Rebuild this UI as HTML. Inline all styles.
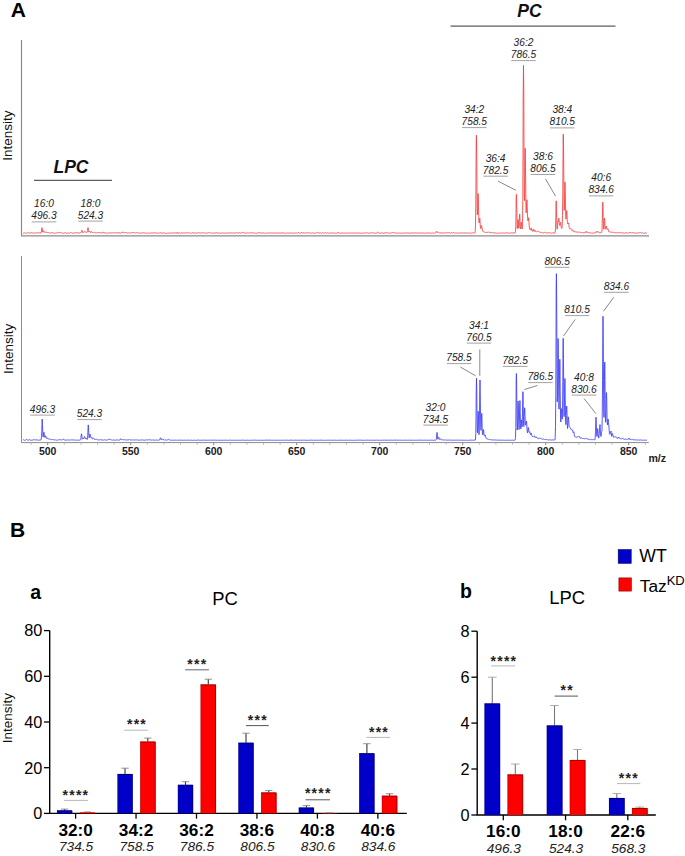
<!DOCTYPE html><html><head><meta charset="utf-8"><title>fig</title><style>html,body{margin:0;padding:0;background:#fff}svg{display:block}text{font-family:"Liberation Sans",sans-serif}</style></head><body>
<svg width="685" height="856" viewBox="0 0 685 856">
<rect width="685" height="856" fill="#fff"/>
<text x="10.8" y="16.6" font-size="21" font-weight="bold" fill="#000">A</text>
<text x="10" y="536.8" font-size="21" font-weight="bold" fill="#000">B</text>
<path d="M21.5,40 V235.9 H649" fill="none" stroke="#8c8c8c" stroke-width="1.2"/>
<path d="M21.5,256 V442.6 H648.8" fill="none" stroke="#8c8c8c" stroke-width="1"/>
<line x1="47.7" y1="442.6" x2="47.7" y2="445.2" stroke="#8c8c8c" stroke-width="1"/>
<text x="47.7" y="454.6" font-size="10.5" font-weight="bold" text-anchor="middle" fill="#222">500</text>
<line x1="130.7" y1="442.6" x2="130.7" y2="445.2" stroke="#8c8c8c" stroke-width="1"/>
<text x="130.7" y="454.6" font-size="10.5" font-weight="bold" text-anchor="middle" fill="#222">550</text>
<line x1="213.7" y1="442.6" x2="213.7" y2="445.2" stroke="#8c8c8c" stroke-width="1"/>
<text x="213.7" y="454.6" font-size="10.5" font-weight="bold" text-anchor="middle" fill="#222">600</text>
<line x1="296.7" y1="442.6" x2="296.7" y2="445.2" stroke="#8c8c8c" stroke-width="1"/>
<text x="296.7" y="454.6" font-size="10.5" font-weight="bold" text-anchor="middle" fill="#222">650</text>
<line x1="379.7" y1="442.6" x2="379.7" y2="445.2" stroke="#8c8c8c" stroke-width="1"/>
<text x="379.7" y="454.6" font-size="10.5" font-weight="bold" text-anchor="middle" fill="#222">700</text>
<line x1="462.7" y1="442.6" x2="462.7" y2="445.2" stroke="#8c8c8c" stroke-width="1"/>
<text x="462.7" y="454.6" font-size="10.5" font-weight="bold" text-anchor="middle" fill="#222">750</text>
<line x1="545.7" y1="442.6" x2="545.7" y2="445.2" stroke="#8c8c8c" stroke-width="1"/>
<text x="545.7" y="454.6" font-size="10.5" font-weight="bold" text-anchor="middle" fill="#222">800</text>
<line x1="628.7" y1="442.6" x2="628.7" y2="445.2" stroke="#8c8c8c" stroke-width="1"/>
<text x="628.7" y="454.6" font-size="10.5" font-weight="bold" text-anchor="middle" fill="#222">850</text>
<line x1="31.1" y1="442.6" x2="31.1" y2="444.9" stroke="#a8a8a8" stroke-width="0.7"/>
<line x1="64.3" y1="442.6" x2="64.3" y2="444.9" stroke="#a8a8a8" stroke-width="0.7"/>
<line x1="80.9" y1="442.6" x2="80.9" y2="444.9" stroke="#a8a8a8" stroke-width="0.7"/>
<line x1="97.5" y1="442.6" x2="97.5" y2="444.9" stroke="#a8a8a8" stroke-width="0.7"/>
<line x1="114.1" y1="442.6" x2="114.1" y2="444.9" stroke="#a8a8a8" stroke-width="0.7"/>
<line x1="147.3" y1="442.6" x2="147.3" y2="444.9" stroke="#a8a8a8" stroke-width="0.7"/>
<line x1="163.9" y1="442.6" x2="163.9" y2="444.9" stroke="#a8a8a8" stroke-width="0.7"/>
<line x1="180.5" y1="442.6" x2="180.5" y2="444.9" stroke="#a8a8a8" stroke-width="0.7"/>
<line x1="197.1" y1="442.6" x2="197.1" y2="444.9" stroke="#a8a8a8" stroke-width="0.7"/>
<line x1="230.3" y1="442.6" x2="230.3" y2="444.9" stroke="#a8a8a8" stroke-width="0.7"/>
<line x1="246.9" y1="442.6" x2="246.9" y2="444.9" stroke="#a8a8a8" stroke-width="0.7"/>
<line x1="263.5" y1="442.6" x2="263.5" y2="444.9" stroke="#a8a8a8" stroke-width="0.7"/>
<line x1="280.1" y1="442.6" x2="280.1" y2="444.9" stroke="#a8a8a8" stroke-width="0.7"/>
<line x1="313.3" y1="442.6" x2="313.3" y2="444.9" stroke="#a8a8a8" stroke-width="0.7"/>
<line x1="329.9" y1="442.6" x2="329.9" y2="444.9" stroke="#a8a8a8" stroke-width="0.7"/>
<line x1="346.5" y1="442.6" x2="346.5" y2="444.9" stroke="#a8a8a8" stroke-width="0.7"/>
<line x1="363.1" y1="442.6" x2="363.1" y2="444.9" stroke="#a8a8a8" stroke-width="0.7"/>
<line x1="396.3" y1="442.6" x2="396.3" y2="444.9" stroke="#a8a8a8" stroke-width="0.7"/>
<line x1="412.9" y1="442.6" x2="412.9" y2="444.9" stroke="#a8a8a8" stroke-width="0.7"/>
<line x1="429.5" y1="442.6" x2="429.5" y2="444.9" stroke="#a8a8a8" stroke-width="0.7"/>
<line x1="446.1" y1="442.6" x2="446.1" y2="444.9" stroke="#a8a8a8" stroke-width="0.7"/>
<line x1="479.3" y1="442.6" x2="479.3" y2="444.9" stroke="#a8a8a8" stroke-width="0.7"/>
<line x1="495.9" y1="442.6" x2="495.9" y2="444.9" stroke="#a8a8a8" stroke-width="0.7"/>
<line x1="512.5" y1="442.6" x2="512.5" y2="444.9" stroke="#a8a8a8" stroke-width="0.7"/>
<line x1="529.1" y1="442.6" x2="529.1" y2="444.9" stroke="#a8a8a8" stroke-width="0.7"/>
<line x1="562.3" y1="442.6" x2="562.3" y2="444.9" stroke="#a8a8a8" stroke-width="0.7"/>
<line x1="578.9" y1="442.6" x2="578.9" y2="444.9" stroke="#a8a8a8" stroke-width="0.7"/>
<line x1="595.5" y1="442.6" x2="595.5" y2="444.9" stroke="#a8a8a8" stroke-width="0.7"/>
<line x1="612.1" y1="442.6" x2="612.1" y2="444.9" stroke="#a8a8a8" stroke-width="0.7"/>
<line x1="645.3" y1="442.6" x2="645.3" y2="444.9" stroke="#a8a8a8" stroke-width="0.7"/>
<text x="657.3" y="461.8" font-size="10.6" font-weight="bold" text-anchor="middle" fill="#222">m/z</text>
<text transform="translate(12,135.7) rotate(-90)" font-size="13.5" text-anchor="middle" fill="#111">Intensity</text>
<text transform="translate(12.8,348.9) rotate(-90)" font-size="13.5" text-anchor="middle" fill="#111">Intensity</text>
<path d="M23.0,233.2 23.2,233.2 23.5,233.2 23.8,233.2 24.0,233.1 24.2,232.9 24.5,232.9 24.8,233.0 25.0,233.0 25.2,233.1 25.5,233.0 25.8,233.0 26.0,233.1 26.2,233.2 26.5,233.3 26.8,233.2 27.0,233.1 27.2,233.0 27.5,232.8 27.8,232.6 28.0,232.5 28.2,232.6 28.5,232.8 28.8,232.8 29.0,232.9 29.2,232.9 29.5,233.0 29.8,233.0 30.0,233.0 30.2,233.0 30.5,233.0 30.8,232.9 31.0,232.8 31.2,232.6 31.5,232.5 31.8,232.6 32.0,232.7 32.2,232.8 32.5,232.9 32.8,233.1 33.0,233.1 33.2,233.1 33.5,233.1 33.8,233.1 34.0,233.1 34.2,233.1 34.5,233.1 34.8,233.2 35.0,233.1 35.2,233.0 35.5,232.8 35.8,232.8 36.0,232.8 36.2,232.8 36.5,232.9 36.8,233.0 37.0,233.2 37.2,233.1 37.5,233.1 37.8,233.0 38.0,232.7 38.2,232.5 38.5,232.5 38.8,232.7 39.0,232.9 39.2,233.0 39.5,233.1 39.8,233.1 40.0,233.1 40.2,233.0 40.5,232.9 40.8,233.0 41.0,233.1 41.2,232.6 41.5,231.1 41.8,228.8 42.0,227.6 42.2,228.8 42.5,231.0 42.8,232.1 43.0,232.0 43.2,231.1 43.5,230.7 43.7,230.7 43.8,230.8 44.0,231.6 44.2,232.2 44.5,232.4 44.8,232.2 45.0,232.0 45.2,231.8 45.5,232.0 45.8,232.3 46.0,232.6 46.2,232.5 46.5,232.3 46.7,232.1 46.8,232.0 47.0,232.1 47.2,232.3 47.5,232.7 47.8,232.7 48.0,232.7 48.2,232.6 48.5,232.6 48.8,232.6 49.0,232.7 49.2,232.9 49.5,233.1 49.8,233.1 50.0,233.1 50.2,233.1 50.5,233.0 50.8,233.0 51.0,232.9 51.2,232.6 51.5,232.4 51.8,232.2 52.0,232.5 52.2,232.7 52.5,232.9 52.8,233.0 53.0,233.1 53.2,233.0 53.5,233.0 53.8,232.9 54.0,233.0 54.2,233.1 54.5,233.2 54.8,233.2 55.0,233.1 55.2,233.1 55.5,233.1 55.8,233.2 56.0,233.2 56.2,233.2 56.5,233.2 56.8,232.9 57.0,232.6 57.2,232.3 57.5,232.4 57.8,232.5 58.0,232.7 58.2,232.7 58.5,232.6 58.8,232.6 59.0,232.6 59.2,232.7 59.5,232.6 59.8,232.4 60.0,232.2 60.2,232.3 60.5,232.6 60.8,232.9 61.0,232.9 61.2,232.9 61.5,232.8 61.8,232.9 62.0,233.1 62.2,233.2 62.5,233.2 62.8,233.2 63.0,233.2 63.2,233.2 63.5,233.2 63.8,233.2 64.0,233.1 64.2,233.0 64.5,233.0 64.8,233.0 65.0,233.0 65.2,232.9 65.5,232.7 65.8,232.6 66.0,232.9 66.2,233.1 66.5,233.2 66.8,233.2 67.0,233.2 67.2,233.1 67.5,233.0 67.8,232.8 68.0,232.9 68.2,233.0 68.5,233.2 68.8,233.2 69.0,233.2 69.2,233.2 69.5,233.2 69.8,233.2 70.0,233.1 70.2,232.8 70.5,232.5 70.8,232.4 71.0,232.5 71.2,232.5 71.5,232.7 71.8,233.0 72.0,233.3 72.2,233.2 72.5,233.1 72.8,233.1 73.0,233.1 73.2,233.2 73.5,233.2 73.8,233.2 74.0,233.1 74.2,233.1 74.5,232.9 74.8,232.8 75.0,232.7 75.2,232.7 75.5,232.6 75.8,232.8 76.0,232.9 76.2,233.1 76.5,233.1 76.8,233.2 77.0,233.0 77.2,232.6 77.5,232.2 77.8,232.2 78.0,232.5 78.2,232.7 78.5,232.9 78.8,232.9 79.0,233.0 79.2,233.1 79.5,233.2 79.8,233.2 80.0,233.0 80.2,232.8 80.5,232.7 80.8,232.6 81.0,232.5 81.2,232.3 81.5,231.6 81.8,230.6 82.0,230.2 82.2,231.0 82.5,232.2 82.8,232.8 83.0,233.0 83.2,232.8 83.5,232.4 83.7,232.3 83.8,232.2 84.0,232.1 84.2,231.7 84.5,231.5 84.8,231.7 85.0,232.0 85.2,232.1 85.5,232.2 85.8,232.3 86.0,232.4 86.2,232.2 86.2,232.2 86.5,232.3 86.8,232.4 87.0,232.4 87.2,231.9 87.5,230.6 87.8,228.5 88.0,227.5 88.2,228.6 88.5,230.6 88.8,231.9 89.0,232.1 89.2,231.8 89.5,231.2 89.7,231.0 89.8,231.0 90.0,231.5 90.2,232.1 90.5,232.5 90.8,232.5 91.0,232.2 91.2,231.7 91.5,231.5 91.8,231.8 92.0,232.1 92.2,232.3 92.5,232.5 92.8,232.5 93.0,232.5 93.2,232.5 93.5,232.6 93.8,232.7 94.0,232.6 94.2,232.4 94.5,232.4 94.8,232.6 95.0,232.8 95.2,232.9 95.5,232.9 95.8,232.9 96.0,232.9 96.2,232.9 96.5,232.8 96.8,232.9 97.0,233.0 97.2,233.0 97.5,232.7 97.8,232.4 98.0,232.1 98.2,232.2 98.5,232.5 98.8,232.7 99.0,232.9 99.2,232.9 99.5,232.7 99.7,232.6 99.8,232.6 100.0,232.7 100.2,232.8 100.5,233.0 100.8,232.9 101.0,232.7 101.2,232.4 101.5,232.4 101.8,232.7 102.0,233.0 102.2,233.1 102.5,233.0 102.8,232.9 103.0,232.6 103.2,232.3 103.5,232.0 103.8,232.4 104.0,232.8 104.2,233.0 104.5,232.9 104.8,232.8 105.0,232.8 105.2,233.0 105.5,233.1 105.8,233.2 106.0,233.1 106.2,233.1 106.5,233.0 106.8,232.9 107.0,232.8 107.2,232.9 107.5,233.1 107.8,233.1 108.0,233.0 108.2,233.0 108.5,232.9 108.8,232.9 109.0,232.8 109.2,232.9 109.5,233.0 109.8,233.0 110.0,233.0 110.2,232.9 110.5,232.8 110.8,232.9 111.0,233.0 111.2,233.0 111.5,233.0 111.8,233.0 112.0,233.0 112.2,233.0 112.5,232.9 112.8,232.9 113.0,232.9 113.2,232.9 113.5,232.7 113.8,232.5 114.0,232.4 114.2,232.6 114.5,232.9 114.8,233.1 115.0,233.0 115.2,232.9 115.5,232.8 115.8,232.8 116.0,232.7 116.2,232.8 116.5,232.9 116.8,233.0 117.0,232.8 117.2,232.5 117.5,232.2 117.8,232.6 118.0,233.0 118.2,233.3 118.5,233.2 118.8,233.1 119.0,233.0 119.2,232.9 119.5,232.7 119.8,232.8 120.0,233.0 120.2,233.2 120.5,233.2 120.8,233.1 121.0,233.0 121.2,232.8 121.5,232.5 121.8,232.1 122.0,231.9 122.2,232.2 122.5,232.6 122.8,232.5 123.0,232.2 123.2,232.1 123.5,232.2 123.7,232.3 123.8,232.3 124.0,232.6 124.2,232.9 124.5,233.1 124.8,232.8 125.0,232.5 125.2,232.3 125.5,232.6 125.8,232.9 126.0,233.0 126.2,232.9 126.5,232.8 126.8,232.8 127.0,233.0 127.2,233.1 127.5,233.0 127.8,232.9 128.0,232.7 128.2,232.9 128.5,233.0 128.8,233.1 129.0,233.0 129.2,232.9 129.5,232.9 129.8,233.0 130.0,233.1 130.2,233.0 130.5,233.0 130.8,232.9 131.0,232.8 131.2,232.8 131.5,232.7 131.8,232.6 132.0,232.6 132.2,232.6 132.5,232.7 132.8,232.9 133.0,232.9 133.2,232.7 133.5,232.5 133.8,232.5 134.0,232.5 134.2,232.5 134.5,232.7 134.8,232.9 135.0,233.1 135.2,233.1 135.5,233.1 135.8,233.0 136.0,232.8 136.2,232.6 136.5,232.6 136.8,232.8 137.0,233.0 137.2,232.9 137.5,232.8 137.8,232.6 138.0,232.7 138.2,232.8 138.5,233.0 138.8,233.0 139.0,233.1 139.2,233.2 139.5,233.1 139.8,233.0 140.0,233.0 140.2,233.0 140.5,233.1 140.8,233.1 141.0,233.0 141.2,232.9 141.5,232.9 141.8,232.9 142.0,233.0 142.2,233.0 142.5,233.0 142.8,233.0 143.0,233.0 143.2,232.9 143.5,232.8 143.8,232.7 144.0,232.7 144.2,232.7 144.5,232.9 144.8,233.1 145.0,233.1 145.2,233.2 145.5,233.2 145.8,233.2 146.0,233.2 146.2,233.2 146.5,233.1 146.8,233.0 147.0,233.0 147.2,233.0 147.5,233.1 147.8,233.1 148.0,233.1 148.2,233.2 148.5,233.1 148.8,233.0 149.0,233.0 149.2,233.0 149.5,233.1 149.8,233.1 150.0,233.2 150.2,233.2 150.5,233.3 150.8,233.2 151.0,233.2 151.2,233.0 151.5,232.8 151.8,232.5 152.0,232.6 152.2,232.8 152.5,233.1 152.8,232.9 153.0,232.8 153.2,232.7 153.5,232.9 153.8,233.1 154.0,233.1 154.2,233.0 154.5,233.0 154.8,232.9 155.0,232.8 155.2,232.6 155.5,232.7 155.8,232.8 156.0,232.9 156.2,233.0 156.5,233.0 156.8,233.1 157.0,233.1 157.2,233.2 157.5,233.2 157.8,233.2 158.0,233.1 158.2,233.1 158.5,233.1 158.8,233.0 159.0,233.0 159.2,233.0 159.5,233.0 159.8,232.8 160.0,232.6 160.2,232.5 160.5,232.8 160.8,233.0 161.0,233.2 161.2,233.2 161.5,233.2 161.8,233.2 162.0,233.1 162.2,233.1 162.5,233.1 162.8,233.1 163.0,233.1 163.2,233.0 163.5,232.9 163.8,232.8 164.0,233.0 164.2,233.1 164.5,233.2 164.8,233.2 165.0,233.2 165.2,233.3 165.5,233.3 165.8,233.3 166.0,233.3 166.2,233.3 166.5,233.3 166.8,233.2 167.0,233.2 167.2,233.2 167.5,233.1 167.8,233.1 168.0,233.1 168.2,233.2 168.5,233.2 168.8,233.2 169.0,233.1 169.2,232.9 169.5,232.9 169.8,232.9 170.0,232.9 170.2,233.0 170.5,233.2 170.8,233.2 171.0,233.1 171.2,233.0 171.5,232.9 171.8,232.9 172.0,232.9 172.2,232.9 172.5,233.0 172.8,233.1 173.0,233.2 173.2,233.2 173.5,233.2 173.8,233.0 174.0,232.8 174.2,232.7 174.5,232.9 174.8,233.1 175.0,233.2 175.2,233.1 175.5,233.0 175.8,233.0 176.0,233.0 176.2,233.1 176.5,233.1 176.8,233.2 177.0,233.3 177.2,232.8 177.5,232.4 177.8,232.1 178.0,232.6 178.2,233.0 178.5,233.3 178.8,233.3 179.0,233.3 179.2,233.2 179.5,233.1 179.8,232.9 180.0,233.0 180.2,233.1 180.5,233.2 180.8,233.1 181.0,232.9 181.2,232.7 181.5,232.8 181.8,232.8 182.0,232.9 182.2,233.0 182.5,233.1 182.8,233.1 183.0,233.0 183.2,232.9 183.5,232.8 183.8,232.7 184.0,232.6 184.2,232.7 184.5,232.8 184.8,232.9 185.0,233.0 185.2,233.1 185.5,233.1 185.8,233.1 186.0,233.0 186.2,232.9 186.5,232.9 186.8,232.8 187.0,232.9 187.2,232.9 187.5,233.0 187.8,232.8 188.0,232.6 188.2,232.4 188.5,232.7 188.8,233.0 189.0,233.1 189.2,233.0 189.5,232.8 189.8,232.9 190.0,233.0 190.2,233.2 190.5,233.2 190.8,233.1 191.0,233.0 191.2,233.1 191.5,233.1 191.8,233.1 192.0,232.9 192.2,232.7 192.5,232.6 192.8,232.8 193.0,233.1 193.2,233.1 193.5,233.1 193.8,233.0 194.0,233.1 194.2,233.1 194.5,233.2 194.8,233.0 195.0,232.9 195.2,232.8 195.5,232.9 195.8,233.1 196.0,233.2 196.2,233.1 196.5,233.1 196.8,233.1 197.0,233.2 197.2,233.2 197.5,233.2 197.8,233.1 198.0,233.0 198.2,232.8 198.5,232.6 198.8,232.5 199.0,232.7 199.2,232.9 199.5,233.0 199.8,233.0 200.0,232.9 200.2,233.0 200.5,233.0 200.8,233.0 201.0,233.0 201.2,233.0 201.5,233.0 201.8,233.1 202.0,233.2 202.2,233.1 202.5,232.9 202.8,232.6 203.0,232.5 203.2,232.7 203.5,232.8 203.8,232.9 204.0,232.8 204.2,232.8 204.5,232.9 204.8,233.1 205.0,233.3 205.2,233.2 205.5,233.2 205.8,233.2 206.0,233.1 206.2,233.0 206.5,233.0 206.8,233.1 207.0,233.1 207.2,233.1 207.5,233.1 207.8,233.0 208.0,232.9 208.2,232.7 208.5,232.5 208.8,232.8 209.0,233.0 209.2,233.1 209.5,232.9 209.8,232.7 210.0,232.6 210.2,232.8 210.5,233.0 210.8,233.1 211.0,233.2 211.2,233.2 211.5,233.1 211.8,233.1 212.0,233.0 212.2,233.0 212.5,233.1 212.8,233.1 213.0,233.2 213.2,233.2 213.5,233.2 213.8,233.1 214.0,233.1 214.2,233.0 214.5,232.9 214.8,232.9 215.0,232.9 215.2,233.1 215.5,233.2 215.8,233.0 216.0,232.9 216.2,232.7 216.5,232.7 216.8,232.8 217.0,232.8 217.2,233.0 217.5,233.2 217.8,233.2 218.0,233.2 218.2,233.2 218.5,233.1 218.8,233.0 219.0,233.0 219.2,233.0 219.5,233.0 219.8,233.1 220.0,233.1 220.2,233.1 220.5,233.1 220.8,233.1 221.0,233.0 221.2,233.1 221.5,233.2 221.8,233.2 222.0,233.1 222.2,232.9 222.5,232.7 222.8,232.9 223.0,233.1 223.2,233.2 223.5,233.2 223.8,233.1 224.0,233.1 224.2,233.2 224.5,233.2 224.8,233.1 225.0,233.0 225.2,232.9 225.5,232.9 225.8,233.0 226.0,233.0 226.2,233.1 226.5,233.1 226.8,233.2 227.0,233.2 227.2,233.2 227.5,233.2 227.8,233.1 228.0,233.1 228.2,233.0 228.5,233.0 228.8,233.0 229.0,233.0 229.2,232.9 229.5,232.8 229.8,232.9 230.0,232.9 230.2,233.0 230.5,232.9 230.8,232.8 231.0,232.7 231.2,232.8 231.5,232.9 231.8,232.9 232.0,233.0 232.2,233.0 232.5,232.9 232.8,232.9 233.0,232.8 233.2,232.9 233.5,232.9 233.8,233.0 234.0,233.1 234.2,233.1 234.5,233.2 234.8,233.2 235.0,233.2 235.2,233.2 235.5,233.2 235.8,233.1 236.0,233.0 236.2,232.7 236.5,232.5 236.8,232.6 237.0,232.7 237.2,232.8 237.5,233.0 237.8,233.2 238.0,233.3 238.2,233.2 238.5,233.2 238.8,233.0 239.0,232.8 239.2,232.5 239.5,232.7 239.8,232.9 240.0,233.2 240.2,233.1 240.5,233.1 240.8,233.0 241.0,232.9 241.2,232.9 241.5,232.7 241.8,232.5 242.0,232.3 242.2,232.3 242.5,232.4 242.8,232.5 243.0,232.5 243.2,232.3 243.5,232.2 243.8,232.5 244.0,232.8 244.2,233.1 244.5,233.1 244.8,233.2 245.0,233.3 245.2,233.2 245.5,233.2 245.8,233.2 246.0,233.1 246.2,233.0 246.5,233.0 246.8,233.1 247.0,233.2 247.2,233.1 247.5,232.9 247.8,232.8 248.0,232.8 248.2,232.9 248.5,232.9 248.8,233.0 249.0,233.0 249.2,233.0 249.5,233.0 249.8,233.0 250.0,233.0 250.2,233.0 250.5,232.9 250.8,232.8 251.0,232.6 251.2,232.6 251.5,232.8 251.8,233.0 252.0,233.1 252.2,233.0 252.5,232.9 252.8,232.9 253.0,233.0 253.2,233.1 253.5,233.0 253.8,232.8 254.0,232.7 254.2,232.8 254.5,232.9 254.8,233.0 255.0,233.1 255.2,233.2 255.5,233.2 255.8,233.2 256.0,233.1 256.2,233.2 256.5,233.2 256.8,233.3 257.0,233.1 257.2,233.0 257.5,232.8 257.8,232.9 258.0,233.0 258.2,233.0 258.5,232.8 258.8,232.6 259.0,232.6 259.2,232.7 259.5,232.9 259.8,232.9 260.0,233.0 260.2,233.0 260.5,232.8 260.8,232.7 261.0,232.5 261.2,232.8 261.5,233.0 261.8,233.2 262.0,233.3 262.2,233.3 262.5,233.2 262.8,233.1 263.0,233.0 263.2,232.9 263.5,232.8 263.8,232.7 264.0,232.9 264.2,233.1 264.5,233.3 264.8,233.3 265.0,233.3 265.2,233.2 265.5,233.1 265.8,233.0 266.0,232.9 266.2,232.9 266.5,232.8 266.8,232.9 267.0,233.0 267.2,233.2 267.5,233.3 267.8,233.3 268.0,233.3 268.2,233.1 268.5,232.9 268.8,232.7 269.0,232.8 269.2,232.9 269.5,233.0 269.8,233.0 270.0,233.1 270.2,233.1 270.5,233.0 270.8,232.9 271.0,232.9 271.2,233.0 271.5,233.0 271.8,233.0 272.0,233.0 272.2,233.0 272.5,232.9 272.8,232.8 273.0,232.8 273.2,232.9 273.5,233.1 273.8,233.1 274.0,233.0 274.2,233.0 274.5,233.0 274.8,233.1 275.0,233.2 275.2,233.1 275.5,233.0 275.8,232.9 276.0,233.0 276.2,233.1 276.5,233.1 276.8,233.2 277.0,233.2 277.2,233.1 277.5,233.0 277.8,232.9 278.0,232.9 278.2,233.0 278.5,233.1 278.8,233.1 279.0,233.2 279.2,233.1 279.5,233.0 279.8,232.9 280.0,232.9 280.2,233.0 280.5,233.2 280.8,233.2 281.0,233.2 281.2,233.1 281.5,232.9 281.8,232.7 282.0,232.4 282.2,232.7 282.5,232.9 282.8,233.1 283.0,233.0 283.2,233.0 283.5,233.0 283.8,233.0 284.0,232.9 284.2,233.0 284.5,233.1 284.8,233.2 285.0,233.2 285.2,233.2 285.5,233.2 285.8,233.2 286.0,233.2 286.2,233.2 286.5,233.1 286.8,233.0 287.0,233.0 287.2,233.0 287.5,233.1 287.8,233.1 288.0,233.2 288.2,233.2 288.5,233.1 288.8,233.0 289.0,232.9 289.2,233.0 289.5,233.1 289.8,233.1 290.0,233.1 290.2,233.0 290.5,233.0 290.8,233.1 291.0,233.2 291.2,233.1 291.5,233.1 291.8,233.1 292.0,233.1 292.2,233.2 292.5,233.2 292.8,233.1 293.0,233.0 293.2,232.9 293.5,233.0 293.8,233.0 294.0,233.1 294.2,233.2 294.5,233.2 294.8,233.2 295.0,233.1 295.2,233.0 295.5,232.9 295.8,232.8 296.0,232.6 296.2,232.8 296.5,233.1 296.8,233.2 297.0,233.2 297.2,233.2 297.5,233.1 297.8,232.8 298.0,232.6 298.2,232.5 298.5,232.6 298.8,232.8 299.0,232.8 299.2,232.9 299.5,232.9 299.8,233.1 300.0,233.2 300.2,233.3 300.5,233.2 300.8,233.1 301.0,232.9 301.2,232.6 301.5,232.4 301.8,232.4 302.0,232.7 302.2,233.0 302.5,233.0 302.8,233.0 303.0,233.0 303.2,232.9 303.5,232.8 303.8,232.7 304.0,232.8 304.2,232.9 304.5,233.0 304.8,232.9 305.0,232.8 305.2,232.9 305.5,233.0 305.8,233.2 306.0,233.1 306.2,233.0 306.5,232.8 306.8,232.8 307.0,232.8 307.2,232.7 307.5,232.7 307.8,232.7 308.0,232.8 308.2,233.0 308.5,233.2 308.8,233.2 309.0,233.0 309.2,232.9 309.5,232.9 309.8,233.0 310.0,233.1 310.2,233.1 310.5,233.0 310.8,232.9 311.0,233.0 311.2,233.1 311.5,233.2 311.8,233.1 312.0,233.0 312.2,233.0 312.5,232.9 312.8,232.8 313.0,232.9 313.2,233.0 313.5,233.2 313.8,233.2 314.0,233.2 314.2,233.2 314.5,233.2 314.8,233.2 315.0,233.2 315.2,233.1 315.5,233.1 315.8,233.0 316.0,232.9 316.2,232.8 316.5,232.9 316.8,233.0 317.0,233.1 317.2,233.0 317.5,232.8 317.8,232.6 318.0,232.5 318.2,232.4 318.5,232.4 318.8,232.8 319.0,233.1 319.2,233.2 319.5,233.1 319.8,233.0 320.0,232.9 320.2,232.8 320.5,232.8 320.8,232.9 321.0,233.1 321.2,233.2 321.5,233.2 321.8,233.2 322.0,233.1 322.2,232.9 322.5,232.8 322.8,232.8 323.0,232.9 323.2,233.0 323.5,233.1 323.8,233.1 324.0,233.1 324.2,233.1 324.5,233.1 324.8,233.1 325.0,233.0 325.2,232.8 325.5,232.6 325.8,232.5 326.0,232.4 326.2,232.6 326.5,232.9 326.8,233.2 327.0,233.1 327.2,233.0 327.5,232.8 327.8,233.0 328.0,233.2 328.2,233.3 328.5,233.2 328.8,233.1 329.0,233.0 329.2,232.9 329.5,232.8 329.8,232.8 330.0,233.0 330.2,233.1 330.5,233.1 330.8,233.1 331.0,233.1 331.2,233.1 331.5,233.1 331.8,233.1 332.0,233.1 332.2,233.0 332.5,232.9 332.8,232.9 333.0,232.9 333.2,232.9 333.5,233.0 333.8,233.1 334.0,233.1 334.2,233.1 334.5,233.2 334.8,233.1 335.0,233.1 335.2,233.1 335.5,233.2 335.8,233.3 336.0,233.3 336.2,233.3 336.5,233.2 336.8,233.1 337.0,233.0 337.2,232.9 337.5,232.7 337.8,232.4 338.0,232.1 338.2,232.4 338.5,232.7 338.8,233.0 339.0,233.0 339.2,233.0 339.5,233.1 339.8,233.1 340.0,233.1 340.2,233.1 340.5,233.2 340.8,233.3 341.0,233.3 341.2,233.3 341.5,233.3 341.8,233.2 342.0,233.2 342.2,233.1 342.5,233.0 342.8,232.8 343.0,232.8 343.2,233.0 343.5,233.2 343.8,233.2 344.0,233.2 344.2,233.2 344.5,233.1 344.8,233.0 345.0,232.9 345.2,233.1 345.5,233.2 345.8,233.2 346.0,233.2 346.2,233.1 346.5,233.1 346.8,233.2 347.0,233.2 347.2,233.2 347.5,233.2 347.8,233.2 348.0,233.1 348.2,233.0 348.5,232.9 348.8,233.0 349.0,233.1 349.2,233.1 349.5,233.0 349.8,232.9 350.0,232.9 350.2,233.0 350.5,233.1 350.8,233.1 351.0,233.0 351.2,233.0 351.5,233.1 351.8,233.1 352.0,233.2 352.2,233.1 352.5,233.0 352.8,232.9 353.0,233.0 353.2,233.1 353.5,233.2 353.8,233.1 354.0,233.0 354.2,233.0 354.5,233.1 354.8,233.2 355.0,233.1 355.2,233.0 355.5,232.9 355.8,232.9 356.0,233.0 356.2,233.0 356.5,233.1 356.8,233.1 357.0,233.1 357.2,233.0 357.5,232.9 357.8,232.9 358.0,233.0 358.2,233.1 358.5,233.1 358.8,233.0 359.0,233.0 359.2,233.1 359.5,233.1 359.8,233.1 360.0,233.2 360.2,233.2 360.5,233.2 360.8,233.2 361.0,233.3 361.2,233.3 361.5,233.2 361.8,233.2 362.0,233.1 362.2,233.1 362.5,233.1 362.8,233.1 363.0,233.0 363.2,233.0 363.5,233.1 363.8,233.1 364.0,233.2 364.2,233.2 364.5,233.2 364.8,233.2 365.0,233.0 365.2,232.8 365.5,232.8 365.8,232.9 366.0,233.0 366.2,232.9 366.5,232.8 366.8,232.8 367.0,232.8 367.2,232.9 367.5,232.9 367.8,233.1 368.0,233.2 368.2,233.2 368.5,233.2 368.8,233.2 369.0,233.2 369.2,233.2 369.5,233.2 369.8,233.2 370.0,233.2 370.2,233.1 370.5,233.0 370.8,232.9 371.0,232.8 371.2,232.7 371.5,232.6 371.8,232.6 372.0,232.7 372.2,232.7 372.5,232.8 372.8,232.8 373.0,232.8 373.2,232.9 373.5,233.0 373.8,233.0 374.0,233.1 374.2,233.1 374.5,233.1 374.8,233.2 375.0,233.2 375.2,233.2 375.5,233.1 375.8,233.1 376.0,233.1 376.2,233.2 376.5,233.3 376.8,232.9 377.0,232.6 377.2,232.3 377.5,232.2 377.8,232.2 378.0,232.3 378.2,232.6 378.5,232.8 378.8,233.0 379.0,233.0 379.2,233.0 379.5,233.0 379.8,233.0 380.0,233.0 380.2,233.1 380.5,233.2 380.8,233.2 381.0,233.1 381.2,233.0 381.5,233.0 381.8,233.0 382.0,233.1 382.2,233.1 382.5,233.0 382.8,232.9 383.0,233.0 383.2,233.1 383.5,233.3 383.8,233.1 384.0,232.8 384.2,232.7 384.5,232.9 384.8,233.2 385.0,233.2 385.2,233.0 385.5,232.8 385.8,232.7 386.0,232.7 386.2,232.7 386.5,232.7 386.8,232.7 387.0,232.7 387.2,232.9 387.5,233.0 387.8,233.1 388.0,233.1 388.2,233.1 388.5,233.1 388.8,233.0 389.0,232.9 389.2,232.9 389.5,233.1 389.8,233.2 390.0,233.1 390.2,233.1 390.5,233.0 390.8,233.0 391.0,232.9 391.2,232.9 391.5,232.9 391.8,232.9 392.0,232.8 392.2,232.7 392.5,232.5 392.8,232.5 393.0,232.6 393.2,232.7 393.5,232.6 393.8,232.5 394.0,232.3 394.2,232.6 394.5,232.8 394.8,233.0 395.0,233.1 395.2,233.2 395.5,233.2 395.8,233.2 396.0,233.2 396.2,233.2 396.5,233.2 396.8,233.3 397.0,233.1 397.2,233.0 397.5,232.8 397.8,233.0 398.0,233.1 398.2,233.2 398.5,233.1 398.8,232.9 399.0,232.9 399.2,233.0 399.5,233.1 399.8,233.2 400.0,233.2 400.2,233.2 400.5,233.2 400.8,233.1 401.0,233.1 401.2,233.0 401.5,232.9 401.8,232.9 402.0,233.0 402.2,233.2 402.5,233.3 402.8,233.3 403.0,233.3 403.2,233.2 403.5,233.0 403.8,232.8 404.0,232.8 404.2,232.9 404.5,233.1 404.8,233.0 405.0,233.0 405.2,232.9 405.5,233.0 405.8,233.1 406.0,233.1 406.2,233.1 406.5,233.2 406.8,233.1 407.0,233.0 407.2,232.8 407.5,232.8 407.8,232.9 408.0,233.0 408.2,233.0 408.5,233.0 408.8,233.0 409.0,233.1 409.2,233.2 409.5,233.2 409.8,233.2 410.0,233.2 410.2,233.2 410.5,233.1 410.8,233.1 411.0,233.0 411.2,232.8 411.5,232.7 411.8,232.9 412.0,233.1 412.2,233.2 412.5,233.1 412.8,232.9 413.0,232.9 413.2,233.1 413.5,233.2 413.8,233.2 414.0,233.1 414.2,232.9 414.5,232.9 414.8,232.9 415.0,232.9 415.2,232.9 415.5,232.8 415.8,232.8 416.0,232.8 416.2,232.8 416.5,232.9 416.8,233.0 417.0,233.1 417.2,233.2 417.5,233.2 417.8,233.2 418.0,233.1 418.2,233.0 418.5,233.0 418.8,233.0 419.0,233.0 419.2,233.0 419.5,233.1 419.8,233.2 420.0,233.1 420.2,233.0 420.5,232.9 420.8,232.9 421.0,232.9 421.2,233.0 421.5,233.1 421.8,233.2 422.0,233.3 422.2,233.2 422.5,233.1 422.8,233.1 423.0,233.1 423.2,233.1 423.5,233.1 423.8,233.1 424.0,233.1 424.2,233.1 424.5,233.1 424.8,233.0 425.0,233.1 425.2,233.2 425.5,233.3 425.8,233.2 426.0,233.0 426.2,232.9 426.5,232.9 426.8,232.9 427.0,233.0 427.2,233.0 427.5,233.1 427.8,233.0 428.0,233.0 428.2,233.0 428.5,232.9 428.8,232.8 429.0,232.7 429.2,232.8 429.5,233.0 429.8,233.1 430.0,233.2 430.2,233.3 430.5,233.2 430.8,233.1 431.0,233.0 431.2,233.0 431.5,233.1 431.8,233.2 432.0,233.2 432.2,233.1 432.5,233.0 432.8,233.1 433.0,233.2 433.2,233.2 433.5,233.1 433.8,233.1 434.0,233.0 434.2,233.1 434.5,233.1 434.8,233.0 435.0,232.9 435.2,232.8 435.5,232.8 435.8,232.7 436.0,232.3 436.2,231.6 436.5,231.2 436.8,231.5 437.0,232.1 437.2,232.5 437.5,232.6 437.8,232.4 438.0,232.2 438.2,232.1 438.2,232.1 438.5,232.3 438.8,232.6 439.0,232.8 439.2,233.0 439.5,233.1 439.8,232.8 440.0,232.7 440.2,232.7 440.5,232.9 440.8,233.1 441.0,233.2 441.2,233.1 441.5,233.1 441.8,233.0 442.0,232.9 442.2,232.9 442.5,232.9 442.8,232.9 443.0,232.9 443.2,232.8 443.5,232.8 443.8,232.8 444.0,232.9 444.2,233.0 444.5,233.1 444.8,233.1 445.0,233.1 445.2,233.0 445.5,232.9 445.8,232.7 446.0,232.7 446.2,232.8 446.5,232.8 446.8,232.9 447.0,233.0 447.2,233.0 447.5,232.7 447.8,232.4 448.0,232.3 448.2,232.5 448.5,232.7 448.8,232.8 449.0,232.8 449.2,232.8 449.5,232.9 449.8,233.0 450.0,233.1 450.2,233.1 450.5,233.2 450.8,233.1 451.0,232.9 451.2,232.6 451.5,232.5 451.8,232.6 452.0,232.7 452.2,232.8 452.5,232.9 452.8,233.1 453.0,232.9 453.2,232.7 453.5,232.5 453.8,232.7 454.0,232.8 454.2,232.9 454.5,233.0 454.8,233.0 455.0,233.1 455.2,233.1 455.5,233.1 455.8,233.1 456.0,233.1 456.2,233.1 456.5,233.1 456.8,233.1 457.0,233.1 457.2,233.0 457.5,233.0 457.8,232.9 458.0,233.0 458.2,233.1 458.5,233.1 458.8,233.0 459.0,232.9 459.2,232.9 459.5,233.0 459.8,233.0 460.0,233.1 460.2,233.1 460.5,233.2 460.8,232.9 461.0,232.6 461.2,232.4 461.5,232.7 461.8,233.0 462.0,233.2 462.2,233.2 462.5,233.1 462.8,233.1 463.0,233.0 463.2,233.0 463.5,232.9 463.8,233.0 464.0,233.0 464.2,233.1 464.5,233.2 464.8,233.2 465.0,233.0 465.2,232.7 465.5,232.6 465.8,232.7 466.0,232.8 466.2,233.0 466.5,233.1 466.8,233.3 467.0,233.2 467.2,233.1 467.5,233.0 467.8,233.0 468.0,233.0 468.2,233.0 468.5,233.1 468.8,233.2 469.0,233.2 469.2,233.1 469.5,233.0 469.8,233.0 470.0,233.1 470.2,233.1 470.5,233.1 470.8,233.2 471.0,233.2 471.2,233.1 471.5,233.1 471.8,233.0 472.0,232.9 472.2,232.9 472.5,232.9 472.8,233.0 473.0,233.1 473.2,233.1 473.5,233.0 473.8,232.9 474.0,232.9 474.2,233.0 474.5,233.0 474.8,233.0 475.0,232.8 475.2,231.4 475.5,224.9 475.8,206.2 476.0,173.1 476.2,141.7 476.4,135.2 476.5,137.9 476.8,163.6 477.0,196.1 477.2,214.6 477.5,214.8 477.8,204.1 478.0,194.5 478.1,193.5 478.2,195.8 478.5,206.4 478.8,217.4 479.0,222.8 479.2,222.4 479.5,219.4 479.8,218.0 480.0,220.4 480.2,224.5 480.5,227.7 480.8,228.7 481.0,227.9 481.2,226.4 481.5,225.5 481.8,226.1 482.0,227.5 482.2,228.8 482.5,230.2 482.8,231.1 483.0,231.6 483.2,231.7 483.5,231.8 483.8,231.8 484.0,231.7 484.2,231.6 484.5,231.9 484.8,232.2 485.0,232.5 485.2,232.5 485.5,232.5 485.8,232.5 486.0,232.5 486.2,232.5 486.5,232.4 486.8,232.4 487.0,232.5 487.2,232.4 487.5,232.4 487.8,232.4 488.0,232.3 488.2,232.2 488.5,232.1 488.8,232.3 489.0,232.5 489.2,232.6 489.5,232.4 489.8,232.2 490.0,232.2 490.2,232.5 490.5,232.7 490.8,232.8 491.0,232.7 491.2,232.6 491.5,232.5 491.8,232.5 492.0,232.4 492.2,232.5 492.5,232.6 492.8,232.7 493.0,232.8 493.2,232.9 493.5,232.9 493.8,233.0 494.0,233.0 494.2,233.0 494.5,233.0 494.8,232.9 495.0,232.9 495.2,232.8 495.5,232.8 495.8,233.0 496.0,233.1 496.2,233.3 496.5,233.2 496.8,233.1 497.0,233.1 497.2,233.1 497.5,233.2 497.8,233.2 498.0,233.2 498.2,233.2 498.5,233.2 498.8,233.1 499.0,233.0 499.2,233.0 499.5,233.0 499.8,233.0 500.0,233.1 500.2,233.1 500.5,233.1 500.8,233.0 501.0,233.0 501.2,233.0 501.5,233.0 501.8,233.0 502.0,233.0 502.2,233.1 502.5,233.1 502.8,233.0 503.0,232.9 503.2,232.9 503.5,233.0 503.8,233.1 504.0,233.2 504.2,233.2 504.5,233.1 504.8,233.1 505.0,233.1 505.2,233.0 505.5,232.9 505.8,232.8 506.0,232.6 506.2,232.8 506.5,233.1 506.8,233.2 507.0,233.0 507.2,232.8 507.5,232.7 507.8,232.9 508.0,233.0 508.2,233.1 508.5,233.1 508.8,233.1 509.0,233.1 509.2,233.2 509.5,233.3 509.8,233.2 510.0,233.0 510.2,232.9 510.5,232.8 510.8,232.7 511.0,232.7 511.2,232.8 511.5,232.9 511.8,233.0 512.0,233.1 512.2,233.2 512.5,233.0 512.8,232.8 513.0,232.5 513.2,232.8 513.5,233.0 513.8,233.2 514.0,233.1 514.2,233.1 514.5,233.0 514.8,233.0 515.0,233.0 515.2,232.9 515.5,231.5 515.8,225.8 516.0,212.4 516.2,197.6 516.4,194.4 516.5,195.8 516.8,208.5 517.0,222.3 517.2,228.6 517.5,228.2 517.8,223.9 518.0,220.0 518.1,219.6 518.2,220.6 518.5,224.9 518.8,228.3 519.0,227.4 519.2,221.9 519.5,215.4 519.6,214.1 519.8,214.6 520.0,220.1 520.2,226.2 520.5,228.7 520.8,227.8 521.0,224.8 521.2,222.3 521.3,222.1 521.5,223.0 521.8,226.3 522.0,229.1 522.2,229.0 522.5,222.6 522.8,200.5 523.0,152.9 523.2,93.7 523.5,65.4 523.8,93.6 524.0,150.7 524.2,193.2 524.5,200.6 524.8,181.6 525.0,156.1 525.2,148.3 525.2,149.1 525.5,167.4 525.8,193.9 526.0,210.3 526.2,212.8 526.5,207.0 526.8,200.1 527.0,199.8 527.2,206.6 527.5,215.0 527.8,219.8 528.0,220.9 528.2,219.1 528.5,217.7 528.7,218.4 528.8,218.9 529.0,222.5 529.2,226.0 529.5,228.0 529.8,228.9 530.0,229.5 530.2,229.8 530.5,230.2 530.8,229.2 531.0,228.3 531.2,227.9 531.5,229.1 531.8,230.1 532.0,230.8 532.2,231.1 532.5,231.3 532.8,230.8 533.0,229.9 533.2,229.0 533.5,229.6 533.8,230.6 534.0,231.5 534.2,230.8 534.5,230.1 534.8,229.8 535.0,230.5 535.2,231.2 535.5,231.5 535.8,231.6 536.0,231.7 536.2,231.7 536.5,231.8 536.8,231.9 537.0,231.7 537.2,231.5 537.5,231.3 537.8,231.3 538.0,231.4 538.2,231.4 538.5,231.6 538.8,231.7 539.0,231.9 539.2,232.0 539.5,232.1 539.8,232.2 540.0,232.2 540.2,232.2 540.5,232.3 540.8,232.5 541.0,232.6 541.2,232.5 541.5,232.5 541.8,232.4 542.0,232.6 542.2,232.7 542.5,232.8 542.8,232.9 543.0,232.9 543.2,232.9 543.5,232.8 543.8,232.7 544.0,232.6 544.2,232.5 544.5,232.3 544.8,232.4 545.0,232.4 545.2,232.5 545.5,232.7 545.8,232.9 546.0,233.0 546.2,232.9 546.5,232.8 546.8,232.9 547.0,232.9 547.2,233.0 547.5,233.0 547.8,232.9 548.0,232.9 548.2,232.8 548.5,232.7 548.8,232.6 549.0,232.6 549.2,232.7 549.5,232.7 549.8,232.7 550.0,232.7 550.2,232.8 550.5,233.0 550.8,233.2 551.0,233.2 551.2,233.2 551.5,233.1 551.8,233.1 552.0,233.1 552.2,233.0 552.5,232.9 552.8,232.8 553.0,232.8 553.2,232.9 553.5,232.9 553.8,233.0 554.0,233.1 554.2,233.2 554.5,233.2 554.8,233.1 555.0,233.0 555.2,232.2 555.5,228.4 555.8,218.5 556.0,205.5 556.2,200.8 556.2,201.1 556.5,209.5 556.8,221.6 557.0,228.4 557.2,229.2 557.5,226.1 557.8,222.3 557.9,221.2 558.0,221.2 558.2,221.9 558.5,220.7 558.8,218.3 558.8,218.2 559.0,219.4 559.2,222.5 559.5,224.6 559.8,225.6 560.0,225.5 560.2,223.6 560.5,222.2 560.8,223.4 561.0,225.8 561.2,227.2 561.5,228.1 561.8,228.5 562.0,228.0 562.2,225.2 562.5,215.5 562.8,191.7 563.0,157.3 563.2,134.9 563.3,134.2 563.5,144.5 563.8,175.0 564.0,201.2 564.2,210.4 564.5,203.4 564.8,189.2 565.0,182.1 565.2,190.2 565.5,206.2 565.8,216.7 566.0,219.1 566.2,215.5 566.5,211.4 566.8,210.5 566.8,210.9 567.0,214.2 567.2,219.3 567.5,222.7 567.8,224.0 568.0,223.7 568.2,223.1 568.5,222.9 568.8,224.2 569.0,225.9 569.2,227.5 569.5,228.4 569.8,228.8 570.0,228.5 570.2,228.3 570.5,228.3 570.8,228.5 571.0,228.8 571.2,229.3 571.5,229.9 571.8,230.4 572.0,230.3 572.2,230.0 572.5,229.8 572.8,230.4 573.0,231.0 573.2,231.5 573.5,231.7 573.8,231.8 574.0,231.8 574.2,231.4 574.5,231.1 574.8,231.3 575.0,231.6 575.2,232.0 575.5,232.1 575.8,232.1 576.0,232.1 576.2,232.0 576.5,232.0 576.8,232.0 577.0,232.2 577.2,232.4 577.5,232.4 577.8,232.2 578.0,232.0 578.2,232.0 578.5,232.0 578.8,232.1 579.0,232.1 579.2,232.0 579.5,232.0 579.8,232.2 580.0,232.4 580.2,232.6 580.5,232.5 580.8,232.4 581.0,232.4 581.2,232.5 581.5,232.5 581.8,232.5 582.0,232.5 582.2,232.6 582.5,232.6 582.8,232.7 583.0,232.8 583.2,232.8 583.5,232.8 583.8,232.8 584.0,232.7 584.2,232.7 584.5,232.7 584.8,232.9 585.0,233.0 585.2,232.9 585.5,232.4 585.8,231.6 586.0,231.2 586.2,231.5 586.5,232.1 586.8,232.6 587.0,232.7 587.2,232.5 587.5,232.1 587.7,231.9 587.8,231.9 588.0,232.1 588.2,232.5 588.5,232.8 588.8,232.8 589.0,232.8 589.2,232.7 589.5,232.6 589.8,232.6 590.0,232.6 590.2,232.8 590.5,233.0 590.8,233.1 591.0,233.0 591.2,233.0 591.5,233.0 591.8,233.0 592.0,232.9 592.2,233.0 592.5,233.1 592.8,233.1 593.0,233.1 593.2,233.0 593.5,233.0 593.8,232.9 594.0,232.8 594.2,232.8 594.5,232.8 594.8,232.9 595.0,233.0 595.2,233.0 595.5,233.0 595.8,232.8 596.0,232.4 596.2,231.7 596.5,231.2 596.8,231.5 597.0,232.1 597.2,232.3 597.5,232.2 597.8,231.8 598.0,231.6 598.2,231.6 598.2,231.7 598.5,232.1 598.8,232.6 599.0,232.9 599.2,232.9 599.5,232.8 599.8,232.7 600.0,232.6 600.2,232.6 600.5,232.6 600.8,232.7 601.0,232.9 601.2,232.9 601.5,232.7 601.8,232.2 602.0,230.1 602.2,223.2 602.5,211.1 602.8,202.4 602.8,202.1 603.0,206.4 603.2,218.3 603.5,227.1 603.8,229.4 604.0,226.6 604.2,221.1 604.5,218.1 604.8,220.8 605.0,225.7 605.2,228.6 605.5,229.1 605.8,228.2 606.0,226.7 606.2,226.0 606.5,227.0 606.8,228.5 607.0,229.4 607.2,229.6 607.5,229.2 607.8,228.6 608.0,228.6 608.2,229.3 608.5,230.5 608.8,231.5 609.0,232.0 609.2,231.9 609.5,231.9 609.8,231.9 610.0,232.0 610.2,232.1 610.5,232.1 610.8,232.0 611.0,232.0 611.2,232.1 611.5,232.2 611.8,232.2 612.0,232.3 612.2,232.3 612.5,232.3 612.8,232.3 613.0,232.3 613.2,232.3 613.5,232.4 613.8,232.4 614.0,232.5 614.2,232.6 614.5,232.6 614.8,232.7 615.0,232.7 615.2,232.7 615.5,232.6 615.8,232.6 616.0,232.6 616.2,232.7 616.5,232.7 616.8,232.8 617.0,232.8 617.2,232.8 617.5,232.8 617.8,232.8 618.0,232.8 618.2,232.7 618.5,232.6 618.8,232.6 619.0,232.7 619.2,232.8 619.5,232.8 619.8,232.6 620.0,232.4 620.2,232.5 620.5,232.6 620.8,232.8 621.0,232.9 621.2,232.9 621.5,232.9 621.8,233.0 622.0,233.1 622.2,233.1 622.5,233.0 622.8,232.9 623.0,232.9 623.2,232.9 623.5,232.9 623.8,232.9 624.0,233.0 624.2,233.1 624.5,233.1 624.8,233.1 625.0,233.1 625.2,233.0 625.5,232.9 625.8,232.9 626.0,232.8 626.2,232.8 626.5,232.7 626.8,232.7 627.0,232.7 627.2,232.7 627.5,232.9 627.8,233.0 628.0,233.1 628.2,233.1 628.5,233.2 628.8,233.0 629.0,232.8 629.2,232.7 629.5,232.8 629.8,232.9 630.0,232.9 630.2,232.7 630.5,232.5 630.8,232.5 631.0,232.7 631.2,232.9 631.5,232.9 631.8,232.8 632.0,232.8 632.2,232.7 632.5,232.6 632.8,232.5 633.0,232.7 633.2,233.0 633.5,233.0 633.8,232.9 634.0,232.8 634.2,232.8 634.5,232.9 634.8,233.0 635.0,233.0 635.2,233.1 635.5,233.2 635.8,233.2 636.0,233.2 636.2,233.2 636.5,233.2 636.8,233.1 637.0,233.1 637.2,233.0 637.5,233.0 637.8,232.9 638.0,232.8 638.2,232.7 638.5,232.7 638.8,232.7 639.0,232.7 639.2,232.8 639.5,232.9 639.8,232.9 640.0,232.8 640.2,232.7 640.5,232.7 640.8,232.7 641.0,232.8 641.2,232.9 641.5,233.1 641.8,233.2 642.0,233.1 642.2,232.9 642.5,232.7 642.8,232.9 643.0,233.1 643.2,233.2 643.5,233.2 643.8,233.2 644.0,233.2 644.2,233.2 644.5,233.3 644.8,233.2 645.0,233.1 645.2,232.9 645.5,232.9 645.8,232.8 646.0,232.8 646.2,232.9 646.5,233.0 646.8,233.0 647.0,232.9" fill="none" stroke="#f73c3c" stroke-width="0.85" stroke-linejoin="round"/>
<path d="M23.0,439.6 23.2,439.7 23.5,439.8 23.8,439.8 24.0,440.0 24.2,440.2 24.5,440.3 24.8,440.3 25.0,440.2 25.2,440.1 25.5,440.0 25.8,439.8 26.0,439.7 26.2,439.6 26.5,439.4 26.8,439.7 27.0,439.9 27.2,440.1 27.5,440.1 27.8,440.2 28.0,440.2 28.2,440.2 28.5,440.2 28.8,440.0 29.0,439.8 29.2,439.5 29.5,439.6 29.8,439.9 30.0,440.2 30.2,440.2 30.5,440.2 30.8,440.3 31.0,440.2 31.2,440.2 31.5,440.1 31.8,440.0 32.0,439.9 32.2,440.0 32.5,440.1 32.8,440.2 33.0,440.1 33.2,439.8 33.5,439.6 33.8,439.7 34.0,439.8 34.2,439.8 34.5,439.8 34.8,439.8 35.0,439.8 35.2,439.9 35.5,440.0 35.8,440.0 36.0,440.0 36.2,439.9 36.5,439.8 36.8,439.8 37.0,439.7 37.2,439.9 37.5,440.1 37.8,440.2 38.0,440.2 38.2,440.2 38.5,440.1 38.8,440.2 39.0,440.2 39.2,440.2 39.5,440.1 39.8,440.1 40.0,440.0 40.2,440.0 40.5,440.0 40.8,440.0 41.0,439.9 41.2,439.4 41.5,436.9 41.8,430.6 42.0,422.3 42.2,419.1 42.2,419.3 42.5,424.5 42.8,432.2 43.0,436.5 43.2,437.1 43.5,435.2 43.8,432.8 43.9,432.2 44.0,432.4 44.2,434.2 44.5,436.3 44.8,437.2 45.0,437.5 45.2,436.9 45.5,436.0 45.8,435.8 46.0,436.5 46.2,437.6 46.5,438.3 46.8,438.6 47.0,438.3 47.2,437.9 47.5,438.0 47.8,438.5 48.0,438.8 48.2,439.0 48.5,439.0 48.8,439.1 49.0,439.1 49.2,439.0 49.5,438.9 49.8,439.0 50.0,439.2 50.2,439.4 50.5,439.4 50.8,439.4 51.0,439.3 51.2,439.5 51.5,439.6 51.8,439.7 52.0,439.6 52.2,439.5 52.5,439.5 52.8,439.6 53.0,439.6 53.2,439.7 53.5,439.7 53.8,439.7 54.0,439.8 54.2,439.9 54.5,440.0 54.8,439.9 55.0,439.9 55.2,439.8 55.5,439.9 55.8,440.0 56.0,440.1 56.2,440.1 56.5,440.2 56.8,440.2 57.0,440.1 57.2,440.1 57.5,440.1 57.8,440.1 58.0,440.1 58.2,440.0 58.5,439.9 58.8,439.8 59.0,439.8 59.2,439.7 59.5,439.7 59.8,439.6 60.0,439.5 60.2,439.6 60.5,439.7 60.8,439.9 61.0,439.9 61.2,439.9 61.5,439.9 61.8,440.0 62.0,440.0 62.2,440.0 62.5,439.8 62.8,439.5 63.0,439.3 63.2,439.3 63.5,439.2 63.8,439.3 64.0,439.6 64.2,439.9 64.5,440.0 64.8,440.1 65.0,440.2 65.2,440.2 65.5,440.1 65.8,440.1 66.0,440.1 66.2,440.1 66.5,440.2 66.8,440.2 67.0,440.2 67.2,440.1 67.5,439.9 67.8,439.7 68.0,439.8 68.2,439.9 68.5,440.1 68.8,440.0 69.0,440.0 69.2,439.9 69.5,440.0 69.8,440.2 70.0,440.2 70.2,440.1 70.5,440.0 70.8,440.0 71.0,440.1 71.2,440.1 71.5,440.0 71.8,439.8 72.0,439.6 72.2,439.8 72.5,439.9 72.8,440.1 73.0,440.1 73.2,440.1 73.5,440.1 73.8,440.0 74.0,440.0 74.2,440.0 74.5,439.9 74.8,439.8 75.0,439.9 75.2,440.1 75.5,440.3 75.8,440.2 76.0,440.2 76.2,440.2 76.5,440.1 76.8,439.9 77.0,439.9 77.2,440.0 77.5,440.1 77.8,440.2 78.0,440.2 78.2,440.2 78.5,440.2 78.8,440.2 79.0,440.2 79.2,440.2 79.5,440.1 79.8,440.1 80.0,440.1 80.2,440.0 80.5,439.9 80.8,439.4 81.0,437.8 81.2,435.2 81.5,433.8 81.8,435.1 82.0,437.5 82.2,438.8 82.5,438.9 82.8,438.7 83.0,438.1 83.2,438.0 83.2,438.0 83.5,438.4 83.8,438.7 84.0,438.3 84.2,437.3 84.5,436.5 84.8,436.7 85.0,437.5 85.2,438.3 85.5,438.8 85.8,438.7 86.0,438.2 86.2,438.0 86.2,438.0 86.5,438.3 86.8,438.9 87.0,439.4 87.2,439.5 87.5,438.5 87.8,435.0 88.0,429.1 88.2,425.0 88.3,424.9 88.5,427.0 88.8,432.6 89.0,436.7 89.2,437.9 89.5,437.1 89.8,435.2 90.0,434.1 90.2,434.9 90.5,436.4 90.8,437.4 91.0,437.7 91.2,437.6 91.5,437.2 91.8,437.2 92.0,437.8 92.2,438.7 92.5,438.9 92.8,438.7 93.0,438.2 93.2,438.0 93.5,438.0 93.8,438.3 94.0,438.8 94.2,439.2 94.5,439.4 94.8,439.5 95.0,439.7 95.2,439.6 95.5,439.5 95.8,439.4 96.0,439.3 96.2,439.2 96.5,439.2 96.8,439.4 97.0,439.6 97.2,439.8 97.5,439.8 97.8,439.8 98.0,439.9 98.2,439.9 98.5,439.9 98.8,439.9 99.0,439.8 99.2,439.8 99.5,439.9 99.8,440.0 100.0,440.1 100.2,439.9 100.5,439.7 100.8,439.6 101.0,439.7 101.2,439.8 101.5,439.9 101.8,439.9 102.0,440.0 102.2,440.0 102.5,440.0 102.8,440.0 103.0,440.0 103.2,440.0 103.5,440.1 103.8,439.9 104.0,439.8 104.2,439.7 104.5,439.8 104.8,439.9 105.0,440.0 105.2,440.0 105.5,440.1 105.8,440.1 106.0,440.1 106.2,440.2 106.5,440.0 106.8,439.9 107.0,439.7 107.2,439.8 107.5,440.0 107.8,440.1 108.0,439.9 108.2,439.7 108.5,439.4 108.8,439.1 109.0,438.9 109.2,439.1 109.5,439.4 109.8,439.6 110.0,439.7 110.2,439.6 110.5,439.6 110.7,439.5 110.8,439.6 111.0,439.7 111.2,439.9 111.5,440.0 111.8,440.0 112.0,440.0 112.2,440.0 112.5,440.1 112.8,440.1 113.0,440.0 113.2,439.9 113.5,440.0 113.8,440.1 114.0,440.2 114.2,440.2 114.5,440.2 114.8,440.2 115.0,440.2 115.2,440.2 115.5,440.2 115.8,440.0 116.0,439.9 116.2,439.8 116.5,439.9 116.8,439.9 117.0,439.9 117.2,440.0 117.5,440.0 117.8,440.0 118.0,440.1 118.2,440.1 118.5,440.1 118.8,440.1 119.0,440.1 119.2,440.1 119.5,440.2 119.8,440.0 120.0,439.7 120.2,439.2 120.5,439.0 120.8,438.8 121.0,438.8 121.2,439.0 121.5,439.6 121.8,439.9 122.0,439.9 122.2,439.8 122.5,439.5 122.7,439.4 122.8,439.4 123.0,439.6 123.2,439.7 123.5,439.8 123.8,439.7 124.0,439.7 124.2,439.6 124.5,439.7 124.8,439.8 125.0,440.0 125.2,440.0 125.5,440.0 125.8,440.0 126.0,439.9 126.2,439.9 126.5,439.9 126.8,439.9 127.0,439.9 127.2,439.9 127.5,439.9 127.8,440.0 128.0,440.1 128.2,440.0 128.5,439.9 128.8,439.8 129.0,439.7 129.2,439.5 129.5,439.5 129.8,439.7 130.0,439.8 130.2,439.9 130.5,440.0 130.8,440.0 131.0,440.0 131.2,440.0 131.5,440.0 131.8,439.9 132.0,439.8 132.2,439.8 132.5,440.0 132.8,440.1 133.0,440.2 133.2,440.1 133.5,439.9 133.8,439.9 134.0,439.9 134.2,440.0 134.5,440.0 134.8,440.0 135.0,440.1 135.2,440.0 135.5,440.0 135.8,439.9 136.0,440.0 136.2,440.1 136.5,440.0 136.8,439.8 137.0,439.6 137.2,439.7 137.5,439.9 137.8,440.2 138.0,440.2 138.2,440.2 138.5,440.1 138.8,440.2 139.0,440.2 139.2,440.2 139.5,440.1 139.8,440.0 140.0,439.9 140.2,440.0 140.5,440.0 140.8,440.1 141.0,440.1 141.2,440.1 141.5,440.0 141.8,440.0 142.0,439.9 142.2,439.9 142.5,439.9 142.8,439.9 143.0,440.0 143.2,440.1 143.5,440.1 143.8,440.2 144.0,440.2 144.2,440.2 144.5,440.2 144.8,440.2 145.0,440.2 145.2,440.0 145.5,439.9 145.8,439.9 146.0,439.9 146.2,439.9 146.5,439.9 146.8,439.9 147.0,440.0 147.2,440.0 147.5,440.0 147.8,440.0 148.0,439.9 148.2,439.9 148.5,439.7 148.8,439.5 149.0,439.3 149.2,439.5 149.5,439.8 149.8,440.0 150.0,439.9 150.2,439.9 150.5,439.9 150.8,439.9 151.0,439.9 151.2,440.0 151.5,440.1 151.8,440.2 152.0,440.2 152.2,440.1 152.5,440.0 152.8,440.0 153.0,440.0 153.2,440.0 153.5,440.0 153.8,440.1 154.0,440.1 154.2,440.1 154.5,440.2 154.8,440.2 155.0,440.2 155.2,440.2 155.5,440.2 155.8,440.2 156.0,440.2 156.2,440.1 156.5,440.0 156.8,439.9 157.0,440.0 157.2,440.1 157.5,440.2 157.8,440.2 158.0,440.2 158.2,440.2 158.5,440.2 158.8,440.2 159.0,440.2 159.2,440.1 159.5,440.0 159.8,439.7 160.0,439.0 160.2,438.1 160.5,437.8 160.8,438.4 161.0,439.2 161.2,439.7 161.5,439.7 161.8,439.4 162.0,439.1 162.2,438.9 162.2,439.0 162.5,439.2 162.8,439.6 163.0,439.8 163.2,439.8 163.5,439.7 163.8,439.7 164.0,439.7 164.2,439.9 164.5,440.1 164.8,440.1 165.0,440.1 165.2,440.0 165.5,439.9 165.8,439.8 166.0,439.9 166.2,440.0 166.5,440.1 166.8,440.0 167.0,439.9 167.2,439.9 167.5,439.9 167.8,439.9 168.0,439.9 168.2,439.7 168.5,439.4 168.8,439.5 169.0,439.7 169.2,439.8 169.5,439.9 169.8,440.0 170.0,440.1 170.2,440.1 170.5,440.2 170.8,440.2 171.0,440.2 171.2,440.2 171.5,440.2 171.8,440.2 172.0,440.1 172.2,440.2 172.5,440.2 172.8,440.2 173.0,440.2 173.2,440.3 173.5,440.3 173.8,440.2 174.0,440.2 174.2,440.2 174.5,440.2 174.8,440.2 175.0,440.3 175.2,440.2 175.5,440.2 175.8,440.2 176.0,440.2 176.2,440.3 176.5,440.2 176.8,440.1 177.0,440.1 177.2,440.1 177.5,440.2 177.8,440.2 178.0,440.2 178.2,440.2 178.5,440.2 178.8,440.3 179.0,440.3 179.2,440.2 179.5,440.2 179.8,440.1 180.0,440.2 180.2,440.2 180.5,440.3 180.8,440.3 181.0,440.2 181.2,440.2 181.5,440.2 181.8,440.2 182.0,440.2 182.2,440.2 182.5,440.2 182.8,440.2 183.0,440.2 183.2,440.3 183.5,440.3 183.8,440.3 184.0,440.3 184.2,440.2 184.5,440.2 184.8,440.2 185.0,440.2 185.2,440.3 185.5,440.3 185.8,440.3 186.0,440.3 186.2,440.3 186.5,440.2 186.8,440.2 187.0,440.2 187.2,440.2 187.5,440.3 187.8,440.2 188.0,440.2 188.2,440.1 188.5,440.2 188.8,440.2 189.0,440.2 189.2,440.2 189.5,440.2 189.8,440.2 190.0,440.2 190.2,440.3 190.5,440.3 190.8,440.3 191.0,440.3 191.2,440.2 191.5,440.2 191.8,440.2 192.0,440.2 192.2,440.3 192.5,440.3 192.8,440.3 193.0,440.2 193.2,440.2 193.5,440.3 193.8,440.3 194.0,440.3 194.2,440.2 194.5,440.2 194.8,440.2 195.0,440.2 195.2,440.3 195.5,440.3 195.8,440.3 196.0,440.3 196.2,440.3 196.5,440.3 196.8,440.2 197.0,440.2 197.2,440.2 197.5,440.1 197.8,440.1 198.0,440.1 198.2,440.1 198.5,440.1 198.8,440.1 199.0,440.2 199.2,440.2 199.5,440.3 199.8,440.3 200.0,440.3 200.2,440.3 200.5,440.2 200.8,440.2 201.0,440.2 201.2,440.2 201.5,440.3 201.8,440.2 202.0,440.2 202.2,440.2 202.5,440.2 202.8,440.2 203.0,440.2 203.2,440.2 203.5,440.2 203.8,440.2 204.0,440.2 204.2,440.2 204.5,440.2 204.8,440.2 205.0,440.2 205.2,440.2 205.5,440.2 205.8,440.2 206.0,440.3 206.2,440.3 206.5,440.3 206.8,440.3 207.0,440.2 207.2,440.2 207.5,440.2 207.8,440.2 208.0,440.2 208.2,440.2 208.5,440.3 208.8,440.2 209.0,440.2 209.2,440.2 209.5,440.2 209.8,440.2 210.0,440.2 210.2,440.2 210.5,440.2 210.8,440.2 211.0,440.2 211.2,440.2 211.5,440.2 211.8,440.2 212.0,440.2 212.2,440.2 212.5,440.2 212.8,440.2 213.0,440.2 213.2,440.2 213.5,440.2 213.8,440.2 214.0,440.2 214.2,440.2 214.5,440.2 214.8,440.3 215.0,440.3 215.2,440.2 215.5,440.2 215.8,440.2 216.0,440.3 216.2,440.3 216.5,440.3 216.8,440.3 217.0,440.3 217.2,440.2 217.5,440.2 217.8,440.2 218.0,440.2 218.2,440.3 218.5,440.3 218.8,440.3 219.0,440.3 219.2,440.3 219.5,440.3 219.8,440.3 220.0,440.3 220.2,440.2 220.5,440.2 220.8,440.2 221.0,440.2 221.2,440.2 221.5,440.3 221.8,440.3 222.0,440.3 222.2,440.3 222.5,440.3 222.8,440.3 223.0,440.3 223.2,440.2 223.5,440.3 223.8,440.3 224.0,440.3 224.2,440.3 224.5,440.2 224.8,440.2 225.0,440.2 225.2,440.2 225.5,440.2 225.8,440.2 226.0,440.2 226.2,440.2 226.5,440.2 226.8,440.2 227.0,440.2 227.2,440.3 227.5,440.3 227.8,440.3 228.0,440.2 228.2,440.2 228.5,440.3 228.8,440.3 229.0,440.3 229.2,440.2 229.5,440.2 229.8,440.2 230.0,440.3 230.2,440.3 230.5,440.2 230.8,440.2 231.0,440.2 231.2,440.2 231.5,440.3 231.8,440.3 232.0,440.3 232.2,440.3 232.5,440.3 232.8,440.3 233.0,440.3 233.2,440.3 233.5,440.3 233.8,440.3 234.0,440.3 234.2,440.3 234.5,440.3 234.8,440.2 235.0,440.2 235.2,440.2 235.5,440.2 235.8,440.3 236.0,440.3 236.2,440.3 236.5,440.3 236.8,440.3 237.0,440.2 237.2,440.2 237.5,440.2 237.8,440.3 238.0,440.3 238.2,440.3 238.5,440.3 238.8,440.3 239.0,440.3 239.2,440.3 239.5,440.2 239.8,440.2 240.0,440.1 240.2,440.2 240.5,440.2 240.8,440.3 241.0,440.3 241.2,440.3 241.5,440.3 241.8,440.2 242.0,440.2 242.2,440.2 242.5,440.2 242.8,440.2 243.0,440.2 243.2,440.2 243.5,440.2 243.8,440.2 244.0,440.3 244.2,440.3 244.5,440.3 244.8,440.3 245.0,440.3 245.2,440.3 245.5,440.3 245.8,440.3 246.0,440.3 246.2,440.3 246.5,440.3 246.8,440.3 247.0,440.2 247.2,440.2 247.5,440.2 247.8,440.2 248.0,440.2 248.2,440.3 248.5,440.3 248.8,440.3 249.0,440.2 249.2,440.2 249.5,440.2 249.8,440.2 250.0,440.2 250.2,440.3 250.5,440.3 250.8,440.3 251.0,440.3 251.2,440.3 251.5,440.3 251.8,440.2 252.0,440.2 252.2,440.2 252.5,440.2 252.8,440.2 253.0,440.2 253.2,440.2 253.5,440.2 253.8,440.2 254.0,440.2 254.2,440.2 254.5,440.2 254.8,440.3 255.0,440.3 255.2,440.2 255.5,440.2 255.8,440.3 256.0,440.3 256.2,440.3 256.5,440.3 256.8,440.3 257.0,440.3 257.2,440.3 257.5,440.3 257.8,440.3 258.0,440.3 258.2,440.3 258.5,440.3 258.8,440.3 259.0,440.3 259.2,440.3 259.5,440.3 259.8,440.3 260.0,440.3 260.2,440.3 260.5,440.2 260.8,440.2 261.0,440.2 261.2,440.2 261.5,440.3 261.8,440.3 262.0,440.3 262.2,440.3 262.5,440.3 262.8,440.2 263.0,440.2 263.2,440.2 263.5,440.3 263.8,440.3 264.0,440.3 264.2,440.3 264.5,440.3 264.8,440.3 265.0,440.3 265.2,440.3 265.5,440.2 265.8,440.2 266.0,440.2 266.2,440.2 266.5,440.2 266.8,440.2 267.0,440.2 267.2,440.2 267.5,440.2 267.8,440.2 268.0,440.2 268.2,440.2 268.5,440.2 268.8,440.2 269.0,440.2 269.2,440.2 269.5,440.2 269.8,440.2 270.0,440.2 270.2,440.2 270.5,440.2 270.8,440.1 271.0,440.2 271.2,440.2 271.5,440.3 271.8,440.3 272.0,440.3 272.2,440.3 272.5,440.3 272.8,440.3 273.0,440.3 273.2,440.3 273.5,440.2 273.8,440.2 274.0,440.3 274.2,440.3 274.5,440.3 274.8,440.2 275.0,440.2 275.2,440.2 275.5,440.2 275.8,440.3 276.0,440.3 276.2,440.3 276.5,440.3 276.8,440.3 277.0,440.3 277.2,440.3 277.5,440.2 277.8,440.2 278.0,440.2 278.2,440.3 278.5,440.3 278.8,440.3 279.0,440.3 279.2,440.3 279.5,440.2 279.8,440.2 280.0,440.2 280.2,440.2 280.5,440.3 280.8,440.3 281.0,440.3 281.2,440.3 281.5,440.2 281.8,440.2 282.0,440.1 282.2,440.2 282.5,440.2 282.8,440.3 283.0,440.3 283.2,440.3 283.5,440.3 283.8,440.3 284.0,440.3 284.2,440.2 284.5,440.2 284.8,440.2 285.0,440.2 285.2,440.2 285.5,440.2 285.8,440.3 286.0,440.3 286.2,440.3 286.5,440.3 286.8,440.3 287.0,440.3 287.2,440.2 287.5,440.2 287.8,440.2 288.0,440.2 288.2,440.3 288.5,440.3 288.8,440.3 289.0,440.2 289.2,440.2 289.5,440.2 289.8,440.2 290.0,440.2 290.2,440.2 290.5,440.2 290.8,440.2 291.0,440.2 291.2,440.2 291.5,440.2 291.8,440.2 292.0,440.2 292.2,440.2 292.5,440.2 292.8,440.2 293.0,440.2 293.2,440.3 293.5,440.3 293.8,440.2 294.0,440.2 294.2,440.2 294.5,440.2 294.8,440.2 295.0,440.2 295.2,440.2 295.5,440.2 295.8,440.2 296.0,440.2 296.2,440.2 296.5,440.2 296.8,440.2 297.0,440.2 297.2,440.2 297.5,440.3 297.8,440.3 298.0,440.3 298.2,440.3 298.5,440.3 298.8,440.3 299.0,440.3 299.2,440.3 299.5,440.2 299.8,440.2 300.0,440.2 300.2,440.2 300.5,440.2 300.8,440.2 301.0,440.2 301.2,440.2 301.5,440.3 301.8,440.3 302.0,440.2 302.2,440.2 302.5,440.2 302.8,440.2 303.0,440.3 303.2,440.3 303.5,440.2 303.8,440.2 304.0,440.2 304.2,440.2 304.5,440.2 304.8,440.2 305.0,440.2 305.2,440.2 305.5,440.3 305.8,440.3 306.0,440.3 306.2,440.3 306.5,440.3 306.8,440.3 307.0,440.3 307.2,440.3 307.5,440.3 307.8,440.3 308.0,440.3 308.2,440.3 308.5,440.3 308.8,440.2 309.0,440.2 309.2,440.2 309.5,440.2 309.8,440.3 310.0,440.3 310.2,440.3 310.5,440.3 310.8,440.3 311.0,440.2 311.2,440.1 311.5,440.1 311.8,440.2 312.0,440.2 312.2,440.2 312.5,440.3 312.8,440.3 313.0,440.3 313.2,440.2 313.5,440.2 313.8,440.3 314.0,440.3 314.2,440.3 314.5,440.3 314.8,440.3 315.0,440.3 315.2,440.3 315.5,440.3 315.8,440.3 316.0,440.3 316.2,440.3 316.5,440.3 316.8,440.2 317.0,440.2 317.2,440.2 317.5,440.2 317.8,440.3 318.0,440.3 318.2,440.3 318.5,440.3 318.8,440.3 319.0,440.2 319.2,440.2 319.5,440.2 319.8,440.3 320.0,440.3 320.2,440.2 320.5,440.2 320.8,440.2 321.0,440.2 321.2,440.2 321.5,440.2 321.8,440.2 322.0,440.2 322.2,440.2 322.5,440.3 322.8,440.3 323.0,440.3 323.2,440.3 323.5,440.3 323.8,440.2 324.0,440.2 324.2,440.2 324.5,440.3 324.8,440.3 325.0,440.3 325.2,440.3 325.5,440.3 325.8,440.3 326.0,440.3 326.2,440.3 326.5,440.3 326.8,440.3 327.0,440.2 327.2,440.2 327.5,440.2 327.8,440.2 328.0,440.2 328.2,440.2 328.5,440.2 328.8,440.2 329.0,440.3 329.2,440.3 329.5,440.3 329.8,440.3 330.0,440.2 330.2,440.2 330.5,440.2 330.8,440.2 331.0,440.3 331.2,440.3 331.5,440.3 331.8,440.3 332.0,440.3 332.2,440.3 332.5,440.3 332.8,440.3 333.0,440.2 333.2,440.2 333.5,440.2 333.8,440.2 334.0,440.2 334.2,440.2 334.5,440.2 334.8,440.2 335.0,440.3 335.2,440.3 335.5,440.3 335.8,440.2 336.0,440.2 336.2,440.3 336.5,440.3 336.8,440.3 337.0,440.3 337.2,440.3 337.5,440.3 337.8,440.3 338.0,440.3 338.2,440.3 338.5,440.3 338.8,440.3 339.0,440.2 339.2,440.2 339.5,440.2 339.8,440.2 340.0,440.2 340.2,440.2 340.5,440.2 340.8,440.3 341.0,440.3 341.2,440.3 341.5,440.3 341.8,440.3 342.0,440.2 342.2,440.2 342.5,440.2 342.8,440.3 343.0,440.3 343.2,440.3 343.5,440.3 343.8,440.3 344.0,440.3 344.2,440.3 344.5,440.3 344.8,440.3 345.0,440.3 345.2,440.3 345.5,440.2 345.8,440.2 346.0,440.2 346.2,440.2 346.5,440.2 346.8,440.2 347.0,440.2 347.2,440.3 347.5,440.3 347.8,440.3 348.0,440.3 348.2,440.3 348.5,440.2 348.8,440.2 349.0,440.2 349.2,440.2 349.5,440.3 349.8,440.3 350.0,440.3 350.2,440.3 350.5,440.2 350.8,440.2 351.0,440.3 351.2,440.3 351.5,440.3 351.8,440.3 352.0,440.2 352.2,440.2 352.5,440.3 352.8,440.3 353.0,440.3 353.2,440.3 353.5,440.3 353.8,440.3 354.0,440.3 354.2,440.3 354.5,440.3 354.8,440.3 355.0,440.3 355.2,440.3 355.5,440.3 355.8,440.3 356.0,440.3 356.2,440.3 356.5,440.2 356.8,440.2 357.0,440.2 357.2,440.2 357.5,440.2 357.8,440.2 358.0,440.2 358.2,440.2 358.5,440.2 358.8,440.2 359.0,440.2 359.2,440.2 359.5,440.2 359.8,440.2 360.0,440.2 360.2,440.2 360.5,440.2 360.8,440.2 361.0,440.2 361.2,440.3 361.5,440.2 361.8,440.2 362.0,440.3 362.2,440.3 362.5,440.3 362.8,440.3 363.0,440.3 363.2,440.3 363.5,440.3 363.8,440.2 364.0,440.2 364.2,440.2 364.5,440.3 364.8,440.2 365.0,440.2 365.2,440.2 365.5,440.2 365.8,440.2 366.0,440.2 366.2,440.2 366.5,440.2 366.8,440.2 367.0,440.2 367.2,440.2 367.5,440.2 367.8,440.2 368.0,440.2 368.2,440.2 368.5,440.2 368.8,440.2 369.0,440.2 369.2,440.2 369.5,440.3 369.8,440.3 370.0,440.2 370.2,440.2 370.5,440.2 370.8,440.2 371.0,440.2 371.2,440.3 371.5,440.3 371.8,440.3 372.0,440.3 372.2,440.3 372.5,440.2 372.8,440.2 373.0,440.1 373.2,440.2 373.5,440.2 373.8,440.2 374.0,440.3 374.2,440.3 374.5,440.3 374.8,440.3 375.0,440.2 375.2,440.2 375.5,440.2 375.8,440.2 376.0,440.2 376.2,440.2 376.5,440.2 376.8,440.2 377.0,440.3 377.2,440.3 377.5,440.2 377.8,440.2 378.0,440.2 378.2,440.3 378.5,440.3 378.8,440.3 379.0,440.3 379.2,440.3 379.5,440.3 379.8,440.2 380.0,440.2 380.2,440.2 380.5,440.2 380.8,440.2 381.0,440.2 381.2,440.3 381.5,440.3 381.8,440.3 382.0,440.3 382.2,440.3 382.5,440.2 382.8,440.2 383.0,440.2 383.2,440.2 383.5,440.2 383.8,440.3 384.0,440.3 384.2,440.3 384.5,440.2 384.8,440.2 385.0,440.2 385.2,440.2 385.5,440.2 385.8,440.2 386.0,440.3 386.2,440.3 386.5,440.3 386.8,440.3 387.0,440.3 387.2,440.3 387.5,440.2 387.8,440.2 388.0,440.3 388.2,440.3 388.5,440.3 388.8,440.2 389.0,440.2 389.2,440.2 389.5,440.2 389.8,440.2 390.0,440.2 390.2,440.2 390.5,440.2 390.8,440.2 391.0,440.2 391.2,440.2 391.5,440.2 391.8,440.2 392.0,440.2 392.2,440.2 392.5,440.3 392.8,440.3 393.0,440.2 393.2,440.2 393.5,440.2 393.8,440.2 394.0,440.3 394.2,440.2 394.5,440.2 394.8,440.2 395.0,440.2 395.2,440.2 395.5,440.2 395.8,440.2 396.0,440.2 396.2,440.2 396.5,440.2 396.8,440.2 397.0,440.2 397.2,440.2 397.5,440.2 397.8,440.2 398.0,440.1 398.2,440.1 398.5,440.2 398.8,440.2 399.0,440.2 399.2,440.2 399.5,440.2 399.8,440.2 400.0,440.2 400.2,440.2 400.5,440.2 400.8,440.2 401.0,440.3 401.2,440.3 401.5,440.3 401.8,440.3 402.0,440.3 402.2,440.3 402.5,440.3 402.8,440.2 403.0,440.2 403.2,440.2 403.5,440.2 403.8,440.2 404.0,440.3 404.2,440.3 404.5,440.3 404.8,440.3 405.0,440.3 405.2,440.3 405.5,440.2 405.8,440.2 406.0,440.2 406.2,440.2 406.5,440.2 406.8,440.2 407.0,440.2 407.2,440.3 407.5,440.3 407.8,440.3 408.0,440.3 408.2,440.3 408.5,440.2 408.8,440.2 409.0,440.2 409.2,440.2 409.5,440.2 409.8,440.2 410.0,440.2 410.2,440.3 410.5,440.2 410.8,440.2 411.0,440.2 411.2,440.3 411.5,440.3 411.8,440.2 412.0,440.2 412.2,440.2 412.5,440.2 412.8,440.2 413.0,440.3 413.2,440.3 413.5,440.3 413.8,440.3 414.0,440.3 414.2,440.3 414.5,440.2 414.8,440.2 415.0,440.2 415.2,440.2 415.5,440.3 415.8,440.3 416.0,440.2 416.2,440.2 416.5,440.2 416.8,440.2 417.0,440.3 417.2,440.3 417.5,440.3 417.8,440.3 418.0,440.3 418.2,440.3 418.5,440.2 418.8,440.2 419.0,440.2 419.2,440.2 419.5,440.2 419.8,440.2 420.0,440.2 420.2,440.2 420.5,440.2 420.8,440.2 421.0,440.2 421.2,440.1 421.5,440.2 421.8,440.2 422.0,440.2 422.2,440.2 422.5,440.3 422.8,440.3 423.0,440.3 423.2,440.3 423.5,440.3 423.8,440.2 424.0,440.2 424.2,440.2 424.5,440.2 424.8,440.2 425.0,440.3 425.2,440.3 425.5,440.3 425.8,440.2 426.0,440.2 426.2,440.2 426.5,440.2 426.8,440.3 427.0,440.3 427.2,440.3 427.5,440.3 427.8,440.3 428.0,440.2 428.2,440.2 428.5,440.2 428.8,440.2 429.0,440.3 429.2,440.3 429.5,440.3 429.8,440.3 430.0,440.3 430.2,440.2 430.5,440.2 430.8,440.2 431.0,440.1 431.2,440.1 431.5,440.2 431.8,440.3 432.0,440.3 432.2,440.3 432.5,440.2 432.8,440.3 433.0,440.3 433.2,440.3 433.5,440.3 433.8,440.3 434.0,440.3 434.2,440.2 434.5,440.2 434.8,440.2 435.0,440.2 435.2,440.3 435.5,440.3 435.8,440.2 436.0,440.0 436.2,439.3 436.5,437.2 436.8,434.0 437.0,432.4 437.2,434.0 437.5,437.1 437.8,439.0 438.0,439.3 438.2,438.6 438.5,437.5 438.7,437.1 438.8,437.1 439.0,437.8 439.2,438.8 439.5,439.3 439.8,439.4 440.0,439.1 440.2,438.7 440.5,438.8 440.8,439.2 441.0,439.7 441.2,439.8 441.5,439.8 441.8,439.7 442.0,439.5 442.2,439.5 442.5,439.7 442.8,439.9 443.0,439.9 443.2,440.0 443.5,440.1 443.8,440.1 444.0,440.0 444.2,440.0 444.5,439.9 444.8,439.9 445.0,439.9 445.2,439.9 445.5,440.0 445.8,440.0 446.0,440.0 446.2,440.1 446.5,440.1 446.8,440.1 447.0,440.0 447.2,440.1 447.5,440.1 447.8,440.1 448.0,440.1 448.2,440.1 448.5,440.1 448.8,440.1 449.0,440.1 449.2,440.1 449.5,440.1 449.8,440.1 450.0,440.2 450.2,440.2 450.5,440.2 450.8,440.2 451.0,440.2 451.2,440.2 451.5,440.2 451.8,440.2 452.0,440.2 452.2,440.2 452.5,440.2 452.8,440.2 453.0,440.2 453.2,440.2 453.5,440.2 453.8,440.2 454.0,440.2 454.2,440.2 454.5,440.2 454.8,440.2 455.0,440.2 455.2,440.2 455.5,440.2 455.8,440.2 456.0,440.2 456.2,440.2 456.5,440.2 456.8,440.2 457.0,440.2 457.2,440.2 457.5,440.2 457.8,440.2 458.0,440.2 458.2,440.2 458.5,440.2 458.8,440.2 459.0,440.2 459.2,440.2 459.5,440.2 459.8,440.2 460.0,440.2 460.2,440.2 460.5,440.2 460.8,440.2 461.0,440.2 461.2,440.2 461.5,440.2 461.8,440.2 462.0,440.2 462.2,440.2 462.5,440.3 462.8,440.3 463.0,440.2 463.2,440.2 463.5,440.2 463.8,440.3 464.0,440.3 464.2,440.3 464.5,440.3 464.8,440.3 465.0,440.3 465.2,440.3 465.5,440.2 465.8,440.3 466.0,440.3 466.2,440.3 466.5,440.2 466.8,440.2 467.0,440.2 467.2,440.3 467.5,440.3 467.8,440.3 468.0,440.3 468.2,440.3 468.5,440.3 468.8,440.3 469.0,440.2 469.2,440.2 469.5,440.2 469.8,440.2 470.0,440.2 470.2,440.2 470.5,440.2 470.8,440.2 471.0,440.3 471.2,440.2 471.5,440.2 471.8,440.2 472.0,440.2 472.2,440.2 472.5,440.2 472.8,440.2 473.0,440.1 473.2,440.1 473.5,440.2 473.8,440.2 474.0,440.2 474.2,440.2 474.5,440.2 474.8,440.2 475.0,440.2 475.2,440.1 475.5,439.0 475.8,433.3 476.0,416.9 476.2,391.7 476.5,378.3 476.8,391.0 477.0,414.9 477.2,430.3 477.5,432.9 477.8,425.8 478.0,415.2 478.2,411.2 478.2,411.4 478.5,419.1 478.8,429.7 479.0,434.7 479.2,431.0 479.5,415.1 479.8,391.3 480.0,380.0 480.2,392.8 480.5,414.5 480.8,427.6 481.0,430.3 481.2,424.9 481.5,416.8 481.7,413.4 481.8,413.6 482.0,419.8 482.2,428.3 482.5,433.7 482.8,434.9 483.0,433.1 483.2,430.1 483.5,429.6 483.8,431.9 484.0,434.5 484.2,435.7 484.5,435.9 484.8,435.4 485.0,434.9 485.2,435.1 485.5,436.1 485.8,437.1 486.0,437.9 486.2,438.4 486.5,438.7 486.8,439.0 487.0,439.2 487.2,439.2 487.5,439.0 487.8,438.9 488.0,438.9 488.2,439.0 488.5,439.0 488.8,439.3 489.0,439.5 489.2,439.6 489.5,439.6 489.8,439.6 490.0,439.6 490.2,439.6 490.5,439.6 490.8,439.7 491.0,439.8 491.2,439.9 491.5,439.9 491.8,439.9 492.0,439.9 492.2,439.9 492.5,439.9 492.8,439.9 493.0,439.9 493.2,439.9 493.5,439.9 493.8,439.9 494.0,439.9 494.2,440.0 494.5,440.0 494.8,440.1 495.0,440.1 495.2,440.0 495.5,440.0 495.8,440.0 496.0,440.1 496.2,440.1 496.5,440.1 496.8,440.1 497.0,440.1 497.2,440.1 497.5,440.1 497.8,440.1 498.0,440.2 498.2,440.2 498.5,440.2 498.8,440.2 499.0,440.2 499.2,440.2 499.5,440.2 499.8,440.2 500.0,440.2 500.2,440.2 500.5,440.2 500.8,440.2 501.0,440.2 501.2,440.2 501.5,440.2 501.8,440.2 502.0,440.2 502.2,440.2 502.5,440.2 502.8,440.2 503.0,440.2 503.2,440.2 503.5,440.2 503.8,440.2 504.0,440.2 504.2,440.2 504.5,440.3 504.8,440.3 505.0,440.3 505.2,440.3 505.5,440.3 505.8,440.3 506.0,440.3 506.2,440.3 506.5,440.2 506.8,440.2 507.0,440.2 507.2,440.2 507.5,440.2 507.8,440.2 508.0,440.2 508.2,440.2 508.5,440.3 508.8,440.3 509.0,440.3 509.2,440.2 509.5,440.2 509.8,440.2 510.0,440.2 510.2,440.3 510.5,440.3 510.8,440.3 511.0,440.3 511.2,440.3 511.5,440.2 511.8,440.2 512.0,440.2 512.2,440.2 512.5,440.2 512.8,440.2 513.0,440.2 513.2,440.2 513.5,440.3 513.8,440.3 514.0,440.3 514.2,440.3 514.5,440.2 514.8,440.2 515.0,440.1 515.2,439.8 515.5,437.4 515.8,427.4 516.0,404.5 516.2,379.1 516.4,373.5 516.5,375.8 516.8,396.5 517.0,419.7 517.2,430.0 517.5,426.6 517.8,414.3 518.0,402.5 518.1,401.0 518.2,403.3 518.5,414.0 518.8,424.7 519.0,429.5 519.2,427.0 519.5,415.1 519.8,402.8 519.9,400.5 520.0,401.6 520.2,412.7 520.5,423.8 520.8,428.9 521.0,427.9 521.2,423.4 521.5,419.9 521.6,420.0 521.8,422.0 522.0,426.8 522.2,425.0 522.5,412.0 522.8,395.6 522.9,391.7 523.0,392.9 523.2,405.5 523.5,420.6 523.8,426.5 524.0,424.3 524.2,416.3 524.5,408.8 524.6,407.8 524.8,408.8 525.0,415.2 525.2,421.8 525.5,424.9 525.8,425.2 526.0,423.3 526.2,421.0 526.5,421.1 526.6,422.1 526.8,424.4 527.0,428.8 527.2,431.8 527.5,432.9 527.8,432.1 528.0,429.2 528.2,427.5 528.3,427.4 528.5,428.2 528.8,430.4 529.0,432.0 529.2,432.4 529.5,432.2 529.8,431.8 530.0,432.5 530.2,433.6 530.5,434.7 530.8,434.1 531.0,433.5 531.2,433.1 531.5,434.4 531.8,435.6 532.0,436.3 532.2,436.4 532.5,436.4 532.8,436.6 533.0,436.8 533.2,437.0 533.5,436.8 533.8,436.5 534.0,436.2 534.2,436.0 534.5,435.9 534.8,436.0 535.0,436.9 535.2,437.7 535.5,438.0 535.8,437.7 536.0,437.4 536.2,437.3 536.5,437.2 536.8,437.2 537.0,437.6 537.2,438.0 537.5,438.4 537.8,438.6 538.0,438.8 538.2,438.9 538.5,438.7 538.8,438.4 539.0,438.3 539.2,438.2 539.5,438.1 539.8,438.1 540.0,438.2 540.2,438.2 540.5,438.4 540.8,438.5 541.0,438.6 541.2,438.8 541.5,438.9 541.8,439.0 542.0,439.1 542.2,439.2 542.5,439.2 542.8,439.2 543.0,439.2 543.2,439.2 543.5,439.1 543.8,439.0 544.0,439.2 544.2,439.4 544.5,439.5 544.8,439.6 545.0,439.6 545.2,439.6 545.5,439.6 545.8,439.5 546.0,439.5 546.2,439.5 546.5,439.4 546.8,439.5 547.0,439.7 547.2,439.9 547.5,439.9 547.8,439.9 548.0,439.9 548.2,439.9 548.5,439.9 548.8,439.9 549.0,439.8 549.2,439.8 549.5,439.8 549.8,439.8 550.0,439.8 550.2,439.9 550.5,439.9 550.8,440.0 551.0,440.0 551.2,440.0 551.5,440.0 551.8,439.9 552.0,439.9 552.2,439.9 552.5,439.9 552.8,440.0 553.0,440.0 553.2,440.0 553.5,439.9 553.8,439.9 554.0,439.9 554.2,439.9 554.5,440.0 554.8,440.0 555.0,439.8 555.2,437.3 555.5,426.3 555.8,394.8 556.0,338.5 556.2,284.8 556.4,273.7 556.5,278.3 556.8,321.7 557.0,374.4 557.2,401.9 557.5,396.3 557.8,368.3 558.0,341.8 558.1,338.5 558.2,343.7 558.5,370.0 558.8,398.6 559.0,409.2 559.2,398.8 559.5,375.2 559.8,359.3 560.0,366.8 560.2,391.4 560.5,413.8 560.8,422.0 561.0,418.8 561.2,411.9 561.5,408.7 561.8,411.3 562.0,416.2 562.2,419.1 562.5,409.8 562.8,382.7 563.0,349.2 563.2,338.3 563.2,339.3 563.5,363.6 563.8,397.5 564.0,416.7 564.2,415.8 564.5,399.9 564.8,382.2 564.9,378.5 565.0,380.4 565.2,396.7 565.5,415.6 565.8,424.6 566.0,423.4 566.2,415.5 566.5,406.8 566.8,406.0 567.0,413.5 567.2,423.2 567.5,428.5 567.8,426.9 568.0,421.3 568.2,416.8 568.5,417.8 568.8,421.6 569.0,424.9 569.2,426.3 569.5,426.8 569.8,427.0 570.0,427.5 570.2,427.9 570.5,428.4 570.8,429.0 571.0,429.6 571.2,429.7 571.5,429.5 571.8,429.3 572.0,429.5 572.2,429.7 572.5,430.0 572.8,431.0 573.0,432.0 573.2,432.7 573.5,432.2 573.8,431.8 574.0,432.3 574.2,434.2 574.5,436.0 574.8,436.7 575.0,436.7 575.2,436.8 575.5,437.0 575.8,437.2 576.0,437.4 576.2,437.3 576.5,437.2 576.8,437.0 577.0,436.9 577.2,436.8 577.5,436.7 577.8,436.7 578.0,436.7 578.2,436.6 578.5,436.5 578.8,436.4 579.0,436.4 579.2,436.5 579.5,436.6 579.8,437.3 580.0,438.0 580.2,438.4 580.5,438.2 580.8,438.1 581.0,437.9 581.2,437.9 581.5,437.8 581.8,437.9 582.0,438.1 582.2,438.3 582.5,438.5 582.8,438.7 583.0,438.9 583.2,438.7 583.5,438.5 583.8,438.3 584.0,438.5 584.2,438.7 584.5,438.8 584.8,438.6 585.0,438.5 585.2,438.5 585.5,438.7 585.8,438.8 586.0,438.7 586.2,438.6 586.5,438.5 586.8,438.5 587.0,438.6 587.2,438.7 587.5,439.1 587.8,439.4 588.0,439.5 588.2,439.3 588.5,439.1 588.8,439.1 589.0,439.1 589.2,439.2 589.5,439.3 589.8,439.4 590.0,439.6 590.2,439.7 590.5,439.7 590.8,439.8 591.0,439.7 591.2,439.6 591.5,439.5 591.8,439.6 592.0,439.7 592.2,439.7 592.5,439.7 592.8,439.6 593.0,439.5 593.2,439.5 593.5,439.4 593.8,439.6 594.0,439.7 594.2,439.8 594.5,439.9 594.8,439.9 595.0,439.5 595.2,437.3 595.5,431.2 595.8,422.0 596.0,417.2 596.2,421.8 596.5,430.3 596.8,435.7 597.0,436.5 597.2,433.9 597.5,430.0 597.7,428.7 597.8,428.8 598.0,431.7 598.2,435.7 598.5,437.9 598.8,438.1 599.0,436.8 599.2,434.3 599.5,430.5 599.8,426.1 600.0,424.5 600.2,427.9 600.5,433.1 600.8,436.2 601.0,436.5 601.2,435.0 601.5,432.6 601.7,431.6 601.8,431.5 602.0,430.1 602.2,419.3 602.5,387.1 602.8,340.6 603.0,316.3 603.2,337.1 603.5,380.7 603.8,412.0 604.0,417.4 604.2,398.2 604.5,371.6 604.7,362.0 604.8,362.6 605.0,380.6 605.2,407.1 605.5,422.2 605.8,421.0 606.0,408.9 606.2,395.2 606.5,392.5 606.8,401.6 607.0,415.0 607.2,423.1 607.5,424.9 607.8,421.8 608.0,419.0 608.2,419.8 608.5,422.4 608.8,425.0 609.0,427.3 609.2,430.8 609.5,433.6 609.8,434.4 610.0,433.9 610.2,433.5 610.5,432.7 610.8,431.8 611.0,431.0 611.2,433.2 611.5,435.2 611.8,436.4 612.0,435.0 612.2,433.7 612.5,433.4 612.8,434.4 613.0,435.2 613.2,436.0 613.5,436.8 613.8,437.4 614.0,437.4 614.2,437.1 614.5,436.9 614.8,436.8 615.0,436.6 615.2,436.6 615.5,436.8 615.8,437.0 616.0,437.1 616.2,437.1 616.5,437.1 616.8,437.4 617.0,438.0 617.2,438.5 617.5,438.5 617.8,438.4 618.0,438.3 618.2,437.8 618.5,437.3 618.8,437.0 619.0,437.5 619.2,438.0 619.5,438.2 619.8,438.2 620.0,438.1 620.2,438.4 620.5,438.7 620.8,439.1 621.0,439.1 621.2,439.0 621.5,438.9 621.7,438.7 621.8,438.6 622.0,438.4 622.2,438.2 622.5,438.4 622.8,438.6 623.0,438.7 623.2,438.8 623.5,438.9 623.8,438.9 624.0,439.0 624.2,439.3 624.5,439.4 624.8,439.4 625.0,439.3 625.2,439.2 625.5,439.0 625.7,438.9 625.8,439.0 626.0,439.2 626.2,439.4 626.5,439.5 626.8,439.4 627.0,439.4 627.2,439.3 627.5,439.2 627.8,439.2 628.0,439.3 628.2,439.3 628.5,439.0 628.8,438.5 629.0,438.1 629.2,438.5 629.5,439.2 629.8,439.7 630.0,439.8 630.2,439.6 630.5,439.3 630.7,439.2 630.8,439.2 631.0,439.3 631.2,439.5 631.5,439.6 631.8,439.7 632.0,439.7 632.2,439.6 632.5,439.5 632.8,439.5 633.0,439.7 633.2,439.8 633.5,439.8 633.8,439.7 634.0,439.7 634.2,439.7 634.5,439.8 634.8,439.9 635.0,439.9 635.2,439.9 635.5,439.9 635.8,439.9 636.0,439.9 636.2,440.0 636.5,439.9 636.8,439.9 637.0,439.9 637.2,440.0 637.5,440.0 637.8,440.0 638.0,440.0 638.2,440.0 638.5,440.0 638.8,440.0 639.0,440.0 639.2,440.0 639.5,440.1 639.8,440.1 640.0,440.0 640.2,440.0 640.5,440.0 640.8,440.0 641.0,440.1 641.2,440.1 641.5,440.1 641.8,440.1 642.0,440.1 642.2,440.1 642.5,440.2 642.8,440.2 643.0,440.2 643.2,440.2 643.5,440.2 643.8,440.2 644.0,440.2 644.2,440.2 644.5,440.2 644.8,440.2 645.0,440.2 645.2,440.2 645.5,440.2 645.8,440.2 646.0,440.1 646.2,440.1 646.5,440.2 646.8,440.2 647.0,440.2" fill="none" stroke="#3a3af5" stroke-width="0.85" stroke-linejoin="round"/>
<text x="71" y="173" font-size="17.5" font-weight="bold" font-style="italic" text-anchor="middle" fill="#111">LPC</text>
<line x1="34" y1="180.3" x2="112" y2="180.3" stroke="#111" stroke-width="0.85"/>
<text x="529.5" y="17" font-size="17.5" font-weight="bold" font-style="italic" text-anchor="middle" fill="#111">PC</text>
<line x1="450.5" y1="26.1" x2="615.5" y2="26.1" stroke="#111" stroke-width="0.85"/>
<text x="44" y="207.3" font-size="10.2" font-style="italic" text-anchor="middle" fill="#222">16:0</text><text x="44" y="219.3" font-size="10.2" font-style="italic" text-anchor="middle" fill="#222">496.3</text><line x1="31.75" y1="221.9" x2="56.25" y2="221.9" stroke="#999" stroke-width="0.9"/>
<text x="90.5" y="206.5" font-size="10.2" font-style="italic" text-anchor="middle" fill="#222">18:0</text><text x="90.5" y="218.5" font-size="10.2" font-style="italic" text-anchor="middle" fill="#222">524.3</text><line x1="78.25" y1="221.1" x2="102.75" y2="221.1" stroke="#999" stroke-width="0.9"/>
<text x="474.3" y="113.0" font-size="10.2" font-style="italic" text-anchor="middle" fill="#222">34:2</text><text x="474.3" y="125.0" font-size="10.2" font-style="italic" text-anchor="middle" fill="#222">758.5</text><line x1="462.05" y1="127.6" x2="486.55" y2="127.6" stroke="#999" stroke-width="0.9"/>
<text x="495.6" y="161.6" font-size="10.2" font-style="italic" text-anchor="middle" fill="#222">36:4</text><text x="495.6" y="173.6" font-size="10.2" font-style="italic" text-anchor="middle" fill="#222">782.5</text><line x1="483.35" y1="176.2" x2="507.85" y2="176.2" stroke="#999" stroke-width="0.9"/>
<line x1="498.1" y1="181.2" x2="516.0" y2="190.3" stroke="#555" stroke-width="0.7"/>
<text x="523.5" y="46" font-size="10.2" font-style="italic" text-anchor="middle" fill="#222">36:2</text><text x="523.5" y="58" font-size="10.2" font-style="italic" text-anchor="middle" fill="#222">786.5</text><line x1="511.25" y1="60.6" x2="535.75" y2="60.6" stroke="#999" stroke-width="0.9"/>
<text x="543" y="159.9" font-size="10.2" font-style="italic" text-anchor="middle" fill="#222">38:6</text><text x="543" y="171.9" font-size="10.2" font-style="italic" text-anchor="middle" fill="#222">806.5</text><line x1="530.75" y1="174.5" x2="555.25" y2="174.5" stroke="#999" stroke-width="0.9"/>
<line x1="545.5" y1="179" x2="555.5" y2="196" stroke="#555" stroke-width="0.7"/>
<text x="562.3" y="113.3" font-size="10.2" font-style="italic" text-anchor="middle" fill="#222">38:4</text><text x="562.3" y="125.3" font-size="10.2" font-style="italic" text-anchor="middle" fill="#222">810.5</text><line x1="550.05" y1="127.89999999999999" x2="574.55" y2="127.89999999999999" stroke="#999" stroke-width="0.9"/>
<text x="601.2" y="181.3" font-size="10.2" font-style="italic" text-anchor="middle" fill="#222">40:6</text><text x="601.2" y="193.3" font-size="10.2" font-style="italic" text-anchor="middle" fill="#222">834.6</text><line x1="588.95" y1="195.9" x2="613.45" y2="195.9" stroke="#999" stroke-width="0.9"/>
<text x="42.5" y="412.5" font-size="10.2" font-style="italic" text-anchor="middle" fill="#222">496.3</text><line x1="30.25" y1="415.1" x2="54.75" y2="415.1" stroke="#999" stroke-width="0.9"/>
<text x="89.5" y="417" font-size="10.2" font-style="italic" text-anchor="middle" fill="#222">524.3</text><line x1="77.25" y1="419.6" x2="101.75" y2="419.6" stroke="#999" stroke-width="0.9"/>
<text x="435.5" y="410.5" font-size="10.2" font-style="italic" text-anchor="middle" fill="#222">32:0</text><text x="435.5" y="422.5" font-size="10.2" font-style="italic" text-anchor="middle" fill="#222">734.5</text><line x1="423.25" y1="425.1" x2="447.75" y2="425.1" stroke="#999" stroke-width="0.9"/>
<text x="459" y="361" font-size="10.2" font-style="italic" text-anchor="middle" fill="#222">758.5</text><line x1="446.75" y1="363.6" x2="471.25" y2="363.6" stroke="#999" stroke-width="0.9"/>
<line x1="460.4" y1="367.1" x2="475.7" y2="375.8" stroke="#555" stroke-width="0.7"/>
<text x="479" y="328.5" font-size="10.2" font-style="italic" text-anchor="middle" fill="#222">34:1</text><text x="479" y="340.5" font-size="10.2" font-style="italic" text-anchor="middle" fill="#222">760.5</text><line x1="466.75" y1="343.1" x2="491.25" y2="343.1" stroke="#999" stroke-width="0.9"/>
<line x1="479.8" y1="349.6" x2="479.8" y2="375.7" stroke="#555" stroke-width="0.7"/>
<text x="515.2" y="363.8" font-size="10.2" font-style="italic" text-anchor="middle" fill="#222">782.5</text><line x1="502.95000000000005" y1="366.40000000000003" x2="527.45" y2="366.40000000000003" stroke="#999" stroke-width="0.9"/>
<text x="540.4" y="380" font-size="10.2" font-style="italic" text-anchor="middle" fill="#222">786.5</text><line x1="528.15" y1="382.6" x2="552.65" y2="382.6" stroke="#999" stroke-width="0.9"/>
<line x1="537.4" y1="385.5" x2="524.5" y2="389.5" stroke="#555" stroke-width="0.7"/>
<text x="557.2" y="264.7" font-size="10.2" font-style="italic" text-anchor="middle" fill="#222">806.5</text><line x1="544.95" y1="267.3" x2="569.45" y2="267.3" stroke="#999" stroke-width="0.9"/>
<text x="577.1" y="313" font-size="10.2" font-style="italic" text-anchor="middle" fill="#222">810.5</text><line x1="564.85" y1="315.6" x2="589.35" y2="315.6" stroke="#999" stroke-width="0.9"/>
<line x1="575.2" y1="319.4" x2="563.5" y2="336" stroke="#555" stroke-width="0.7"/>
<text x="616.4" y="289.7" font-size="10.2" font-style="italic" text-anchor="middle" fill="#222">834.6</text><line x1="604.15" y1="292.3" x2="628.65" y2="292.3" stroke="#999" stroke-width="0.9"/>
<line x1="613.8" y1="297.2" x2="603.5" y2="311.2" stroke="#555" stroke-width="0.7"/>
<text x="584" y="380.5" font-size="10.2" font-style="italic" text-anchor="middle" fill="#222">40:8</text><text x="584" y="392.5" font-size="10.2" font-style="italic" text-anchor="middle" fill="#222">830.6</text><line x1="571.75" y1="395.1" x2="596.25" y2="395.1" stroke="#999" stroke-width="0.9"/>
<line x1="584" y1="398.4" x2="595.8" y2="413.5" stroke="#555" stroke-width="0.7"/>
<path d="M49.7,630.6 V813.4 H406.8" fill="none" stroke="#000" stroke-width="1.4"/>
<line x1="44" y1="813.4" x2="49.7" y2="813.4" stroke="#000" stroke-width="1.3"/>
<text x="42.3" y="819.2" font-size="16.3" text-anchor="end" fill="#000">0</text>
<line x1="44" y1="767.7" x2="49.7" y2="767.7" stroke="#000" stroke-width="1.3"/>
<text x="42.3" y="773.5" font-size="16.3" text-anchor="end" fill="#000">20</text>
<line x1="44" y1="722.0" x2="49.7" y2="722.0" stroke="#000" stroke-width="1.3"/>
<text x="42.3" y="727.8" font-size="16.3" text-anchor="end" fill="#000">40</text>
<line x1="44" y1="676.3" x2="49.7" y2="676.3" stroke="#000" stroke-width="1.3"/>
<text x="42.3" y="682.1" font-size="16.3" text-anchor="end" fill="#000">60</text>
<line x1="44" y1="630.6" x2="49.7" y2="630.6" stroke="#000" stroke-width="1.3"/>
<text x="42.3" y="636.4" font-size="16.3" text-anchor="end" fill="#000">80</text>
<text transform="translate(12.1,718.1) rotate(-90)" font-size="13.5" text-anchor="middle" fill="#111">Intensity</text>
<text x="30.3" y="599.3" font-size="19.5" font-weight="bold" fill="#000">a</text>
<text x="225" y="604.9" font-size="18.4" text-anchor="middle" fill="#000">PC</text>
<path d="M64.6,810.4 V809.1" fill="none" stroke="#333" stroke-width="1.1"/><path d="M60.9,809.1 H68.3" fill="none" stroke="#777" stroke-width="0.8"/><rect x="57.0" y="810.4" width="15.2" height="3.0" fill="#0000c8"/><path d="M57.3,813.4 V810.7" fill="none" stroke="#00006a" stroke-width="0.6" opacity="0.6"/><path d="M57.0,810.8 H71.8 V813.4" fill="none" stroke="#00006a" stroke-width="0.8"/>
<path d="M87.4,812.3 V812.0" fill="none" stroke="#333" stroke-width="1.1"/><path d="M83.7,812.0 H91.1" fill="none" stroke="#777" stroke-width="0.8"/><rect x="79.7" y="812.3" width="15.4" height="1.1" fill="#ff0000"/>
<line x1="75.6" y1="813.4" x2="75.6" y2="818.6999999999999" stroke="#000" stroke-width="1.3"/>
<text x="75.6" y="836.2" font-size="17.2" font-weight="bold" text-anchor="middle" fill="#000">32:0</text>
<text x="76.1" y="851.4" font-size="13.7" font-style="italic" text-anchor="middle" fill="#222">734.5</text>
<path d="M125.0,774 V768.2" fill="none" stroke="#333" stroke-width="1.1"/><path d="M121.3,768.2 H128.8" fill="none" stroke="#777" stroke-width="0.8"/><rect x="117.5" y="774.0" width="15.2" height="39.4" fill="#0000c8"/><path d="M117.8,813.4 V774.3" fill="none" stroke="#00006a" stroke-width="0.6" opacity="0.6"/><path d="M117.5,774.4 H132.2 V813.4" fill="none" stroke="#00006a" stroke-width="0.8"/>
<path d="M147.8,741.6 V738.1" fill="none" stroke="#333" stroke-width="1.1"/><path d="M144.2,738.1 H151.5" fill="none" stroke="#777" stroke-width="0.8"/><rect x="140.2" y="741.6" width="15.4" height="71.8" fill="#ff0000"/><path d="M140.5,813.4 V741.9" fill="none" stroke="#8c0000" stroke-width="0.6" opacity="0.6"/><path d="M140.2,742.0 H155.2 V813.4" fill="none" stroke="#8c0000" stroke-width="0.8"/>
<line x1="136.05" y1="813.4" x2="136.05" y2="818.6999999999999" stroke="#000" stroke-width="1.3"/>
<text x="136.05" y="836.2" font-size="17.2" font-weight="bold" text-anchor="middle" fill="#000">34:2</text>
<text x="136.55" y="851.4" font-size="13.7" font-style="italic" text-anchor="middle" fill="#222">758.5</text>
<path d="M185.5,784.9 V781.7" fill="none" stroke="#333" stroke-width="1.1"/><path d="M181.8,781.7 H189.2" fill="none" stroke="#777" stroke-width="0.8"/><rect x="177.9" y="784.9" width="15.2" height="28.5" fill="#0000c8"/><path d="M178.2,813.4 V785.2" fill="none" stroke="#00006a" stroke-width="0.6" opacity="0.6"/><path d="M177.9,785.2 H192.7 V813.4" fill="none" stroke="#00006a" stroke-width="0.8"/>
<path d="M208.3,684.5 V679.2" fill="none" stroke="#333" stroke-width="1.1"/><path d="M204.6,679.2 H212.0" fill="none" stroke="#777" stroke-width="0.8"/><rect x="200.6" y="684.5" width="15.4" height="128.9" fill="#ff0000"/><path d="M200.9,813.4 V684.8" fill="none" stroke="#8c0000" stroke-width="0.6" opacity="0.6"/><path d="M200.6,684.9 H215.6 V813.4" fill="none" stroke="#8c0000" stroke-width="0.8"/>
<line x1="196.5" y1="813.4" x2="196.5" y2="818.6999999999999" stroke="#000" stroke-width="1.3"/>
<text x="196.5" y="836.2" font-size="17.2" font-weight="bold" text-anchor="middle" fill="#000">36:2</text>
<text x="197.0" y="851.4" font-size="13.7" font-style="italic" text-anchor="middle" fill="#222">786.5</text>
<path d="M246.0,742.8 V733.2" fill="none" stroke="#333" stroke-width="1.1"/><path d="M242.3,733.2 H249.7" fill="none" stroke="#777" stroke-width="0.8"/><rect x="238.4" y="742.8" width="15.2" height="70.6" fill="#0000c8"/><path d="M238.7,813.4 V743.1" fill="none" stroke="#00006a" stroke-width="0.6" opacity="0.6"/><path d="M238.4,743.1 H253.2 V813.4" fill="none" stroke="#00006a" stroke-width="0.8"/>
<path d="M268.8,792.5 V790.5" fill="none" stroke="#333" stroke-width="1.1"/><path d="M265.1,790.5 H272.4" fill="none" stroke="#777" stroke-width="0.8"/><rect x="261.1" y="792.5" width="15.4" height="20.9" fill="#ff0000"/><path d="M261.4,813.4 V792.8" fill="none" stroke="#8c0000" stroke-width="0.6" opacity="0.6"/><path d="M261.1,792.9 H276.1 V813.4" fill="none" stroke="#8c0000" stroke-width="0.8"/>
<line x1="256.95000000000005" y1="813.4" x2="256.95000000000005" y2="818.6999999999999" stroke="#000" stroke-width="1.3"/>
<text x="256.95000000000005" y="836.2" font-size="17.2" font-weight="bold" text-anchor="middle" fill="#000">38:6</text>
<text x="257.45000000000005" y="851.4" font-size="13.7" font-style="italic" text-anchor="middle" fill="#222">806.5</text>
<path d="M306.4,807.6 V805.6" fill="none" stroke="#333" stroke-width="1.1"/><path d="M302.7,805.6 H310.1" fill="none" stroke="#777" stroke-width="0.8"/><rect x="298.8" y="807.6" width="15.2" height="5.8" fill="#0000c8"/><path d="M299.1,813.4 V807.9" fill="none" stroke="#00006a" stroke-width="0.6" opacity="0.6"/><path d="M298.8,808.0 H313.6 V813.4" fill="none" stroke="#00006a" stroke-width="0.8"/>
<path d="M329.2,813.0 V812.9" fill="none" stroke="#333" stroke-width="1.1"/><path d="M325.5,812.9 H332.9" fill="none" stroke="#777" stroke-width="0.8"/><rect x="321.5" y="813.0" width="15.4" height="0.4" fill="#ff0000"/>
<line x1="317.40000000000003" y1="813.4" x2="317.40000000000003" y2="818.6999999999999" stroke="#000" stroke-width="1.3"/>
<text x="317.40000000000003" y="836.2" font-size="17.2" font-weight="bold" text-anchor="middle" fill="#000">40:8</text>
<text x="317.90000000000003" y="851.4" font-size="13.7" font-style="italic" text-anchor="middle" fill="#222">830.6</text>
<path d="M366.9,753.3 V743.7" fill="none" stroke="#333" stroke-width="1.1"/><path d="M363.2,743.7 H370.6" fill="none" stroke="#777" stroke-width="0.8"/><rect x="359.2" y="753.3" width="15.2" height="60.1" fill="#0000c8"/><path d="M359.6,813.4 V753.6" fill="none" stroke="#00006a" stroke-width="0.6" opacity="0.6"/><path d="M359.2,753.6 H374.1 V813.4" fill="none" stroke="#00006a" stroke-width="0.8"/>
<path d="M389.6,795.8 V793.7" fill="none" stroke="#333" stroke-width="1.1"/><path d="M385.9,793.7 H393.3" fill="none" stroke="#777" stroke-width="0.8"/><rect x="381.9" y="795.8" width="15.4" height="17.6" fill="#ff0000"/><path d="M382.2,813.4 V796.1" fill="none" stroke="#8c0000" stroke-width="0.6" opacity="0.6"/><path d="M381.9,796.1 H396.9 V813.4" fill="none" stroke="#8c0000" stroke-width="0.8"/>
<line x1="377.85" y1="813.4" x2="377.85" y2="818.6999999999999" stroke="#000" stroke-width="1.3"/>
<text x="377.85" y="836.2" font-size="17.2" font-weight="bold" text-anchor="middle" fill="#000">40:6</text>
<text x="378.35" y="851.4" font-size="13.7" font-style="italic" text-anchor="middle" fill="#222">834.6</text>
<text x="75.925" y="799.5" font-size="14" font-weight="bold" text-anchor="middle" fill="#222" letter-spacing="1.25">****</text>
<line x1="63.8" y1="800.4" x2="87.9" y2="800.4" stroke="#999" stroke-width="0.7"/>
<text x="137.025" y="729.3000000000001" font-size="14" font-weight="bold" text-anchor="middle" fill="#222" letter-spacing="1.25">***</text>
<line x1="124.3" y1="730.2" x2="147.9" y2="730.2" stroke="#999" stroke-width="0.7"/>
<text x="197.425" y="669.4" font-size="14" font-weight="bold" text-anchor="middle" fill="#222" letter-spacing="1.25">***</text>
<line x1="185.2" y1="669.8" x2="208.9" y2="669.8" stroke="#555" stroke-width="0.9"/>
<text x="257.925" y="724.9" font-size="14" font-weight="bold" text-anchor="middle" fill="#222" letter-spacing="1.25">***</text>
<line x1="246" y1="725.6" x2="268.8" y2="725.6" stroke="#444" stroke-width="0.9"/>
<text x="318.325" y="798.4" font-size="14" font-weight="bold" text-anchor="middle" fill="#222" letter-spacing="1.25">****</text>
<line x1="305.5" y1="799.8" x2="330" y2="799.8" stroke="#444" stroke-width="0.9"/>
<text x="379.025" y="737.0" font-size="14" font-weight="bold" text-anchor="middle" fill="#222" letter-spacing="1.25">***</text>
<line x1="366.4" y1="737.4" x2="390.2" y2="737.4" stroke="#999" stroke-width="0.7"/>
<path d="M477.2,631.2 V815.0 H655.8" fill="none" stroke="#000" stroke-width="1.4"/>
<line x1="471.4" y1="815.0" x2="477.2" y2="815.0" stroke="#000" stroke-width="1.3"/>
<text x="469.6" y="820.8" font-size="16.3" text-anchor="end" fill="#000">0</text>
<line x1="471.4" y1="769.0" x2="477.2" y2="769.0" stroke="#000" stroke-width="1.3"/>
<text x="469.6" y="774.8" font-size="16.3" text-anchor="end" fill="#000">2</text>
<line x1="471.4" y1="723.1" x2="477.2" y2="723.1" stroke="#000" stroke-width="1.3"/>
<text x="469.6" y="728.9" font-size="16.3" text-anchor="end" fill="#000">4</text>
<line x1="471.4" y1="677.2" x2="477.2" y2="677.2" stroke="#000" stroke-width="1.3"/>
<text x="469.6" y="683.0" font-size="16.3" text-anchor="end" fill="#000">6</text>
<line x1="471.4" y1="631.2" x2="477.2" y2="631.2" stroke="#000" stroke-width="1.3"/>
<text x="469.6" y="637.0" font-size="16.3" text-anchor="end" fill="#000">8</text>
<text x="460" y="597.6" font-size="19.5" font-weight="bold" fill="#000">b</text>
<text x="567.1" y="603.5" font-size="18.4" text-anchor="middle" fill="#000">LPC</text>
<path d="M492.3,703.5 V677.2" fill="none" stroke="#777" stroke-width="1.1"/><path d="M488.0,677.2 H496.6" fill="none" stroke="#999" stroke-width="0.8"/><rect x="484.5" y="703.5" width="15.6" height="111.5" fill="#0000c8"/><path d="M484.8,815.0 V703.8" fill="none" stroke="#00006a" stroke-width="0.6" opacity="0.6"/><path d="M484.5,703.9 H499.7 V815.0" fill="none" stroke="#00006a" stroke-width="0.8"/>
<path d="M515.3,774.5 V764" fill="none" stroke="#777" stroke-width="1.1"/><path d="M511.0,764 H519.6" fill="none" stroke="#999" stroke-width="0.8"/><rect x="507.5" y="774.5" width="15.6" height="40.5" fill="#ff0000"/><path d="M507.8,815.0 V774.8" fill="none" stroke="#8c0000" stroke-width="0.6" opacity="0.6"/><path d="M507.5,774.9 H522.7 V815.0" fill="none" stroke="#8c0000" stroke-width="0.8"/>
<line x1="503.3" y1="815.0" x2="503.3" y2="820.3" stroke="#000" stroke-width="1.3"/>
<text x="503.3" y="837.1" font-size="17.2" font-weight="bold" text-anchor="middle" fill="#000">16:0</text>
<text x="503.8" y="853.0" font-size="13.7" font-style="italic" text-anchor="middle" fill="#222">496.3</text>
<path d="M554.5,725.5 V705.5" fill="none" stroke="#777" stroke-width="1.1"/><path d="M550.2,705.5 H558.8" fill="none" stroke="#999" stroke-width="0.8"/><rect x="546.8" y="725.5" width="15.6" height="89.5" fill="#0000c8"/><path d="M547.0,815.0 V725.8" fill="none" stroke="#00006a" stroke-width="0.6" opacity="0.6"/><path d="M546.8,725.9 H562.0 V815.0" fill="none" stroke="#00006a" stroke-width="0.8"/>
<path d="M577.5,760 V749.5" fill="none" stroke="#777" stroke-width="1.1"/><path d="M573.2,749.5 H581.8" fill="none" stroke="#999" stroke-width="0.8"/><rect x="569.8" y="760.0" width="15.6" height="55.0" fill="#ff0000"/><path d="M570.0,815.0 V760.3" fill="none" stroke="#8c0000" stroke-width="0.6" opacity="0.6"/><path d="M569.8,760.4 H585.0 V815.0" fill="none" stroke="#8c0000" stroke-width="0.8"/>
<line x1="565.55" y1="815.0" x2="565.55" y2="820.3" stroke="#000" stroke-width="1.3"/>
<text x="565.55" y="837.1" font-size="17.2" font-weight="bold" text-anchor="middle" fill="#000">18:0</text>
<text x="566.05" y="853.0" font-size="13.7" font-style="italic" text-anchor="middle" fill="#222">524.3</text>
<path d="M616.8,798 V793.5" fill="none" stroke="#777" stroke-width="1.1"/><path d="M612.5,793.5 H621.1" fill="none" stroke="#999" stroke-width="0.8"/><rect x="609.0" y="798.0" width="15.6" height="17.0" fill="#0000c8"/><path d="M609.3,815.0 V798.3" fill="none" stroke="#00006a" stroke-width="0.6" opacity="0.6"/><path d="M609.0,798.4 H624.2 V815.0" fill="none" stroke="#00006a" stroke-width="0.8"/>
<path d="M639.8,808 V807" fill="none" stroke="#777" stroke-width="1.1"/><path d="M635.5,807 H644.1" fill="none" stroke="#999" stroke-width="0.8"/><rect x="632.0" y="808.0" width="15.6" height="7.0" fill="#ff0000"/><path d="M632.3,815.0 V808.3" fill="none" stroke="#8c0000" stroke-width="0.6" opacity="0.6"/><path d="M632.0,808.4 H647.2 V815.0" fill="none" stroke="#8c0000" stroke-width="0.8"/>
<line x1="627.8" y1="815.0" x2="627.8" y2="820.3" stroke="#000" stroke-width="1.3"/>
<text x="627.8" y="837.1" font-size="17.2" font-weight="bold" text-anchor="middle" fill="#000">22:6</text>
<text x="628.3" y="853.0" font-size="13.7" font-style="italic" text-anchor="middle" fill="#222">568.3</text>
<text x="503.925" y="665.6" font-size="14" font-weight="bold" text-anchor="middle" fill="#222" letter-spacing="1.25">****</text>
<line x1="491.2" y1="665.9" x2="515.2" y2="665.9" stroke="#999" stroke-width="0.7"/>
<text x="567.225" y="695.1" font-size="14" font-weight="bold" text-anchor="middle" fill="#222" letter-spacing="1.25">**</text>
<line x1="554.6" y1="696.1" x2="578" y2="696.1" stroke="#444" stroke-width="0.9"/>
<text x="628.925" y="783.1" font-size="14" font-weight="bold" text-anchor="middle" fill="#222" letter-spacing="1.25">***</text>
<line x1="617" y1="783.6" x2="640.3" y2="783.6" stroke="#999" stroke-width="0.7"/>
<rect x="618.2" y="549.6" width="13" height="13.7" fill="#0000c8" stroke="#00006a" stroke-width="0.6"/>
<text x="639.3" y="562.3" font-size="17.6" fill="#000">WT</text>
<rect x="618.9" y="577.9" width="12.5" height="13.2" fill="#ff0000" stroke="#8c0000" stroke-width="0.6"/>
<text x="639.8" y="591.6" font-size="17.3" fill="#000">Taz<tspan dy="-7" font-size="13">KD</tspan></text>
</svg></body></html>
